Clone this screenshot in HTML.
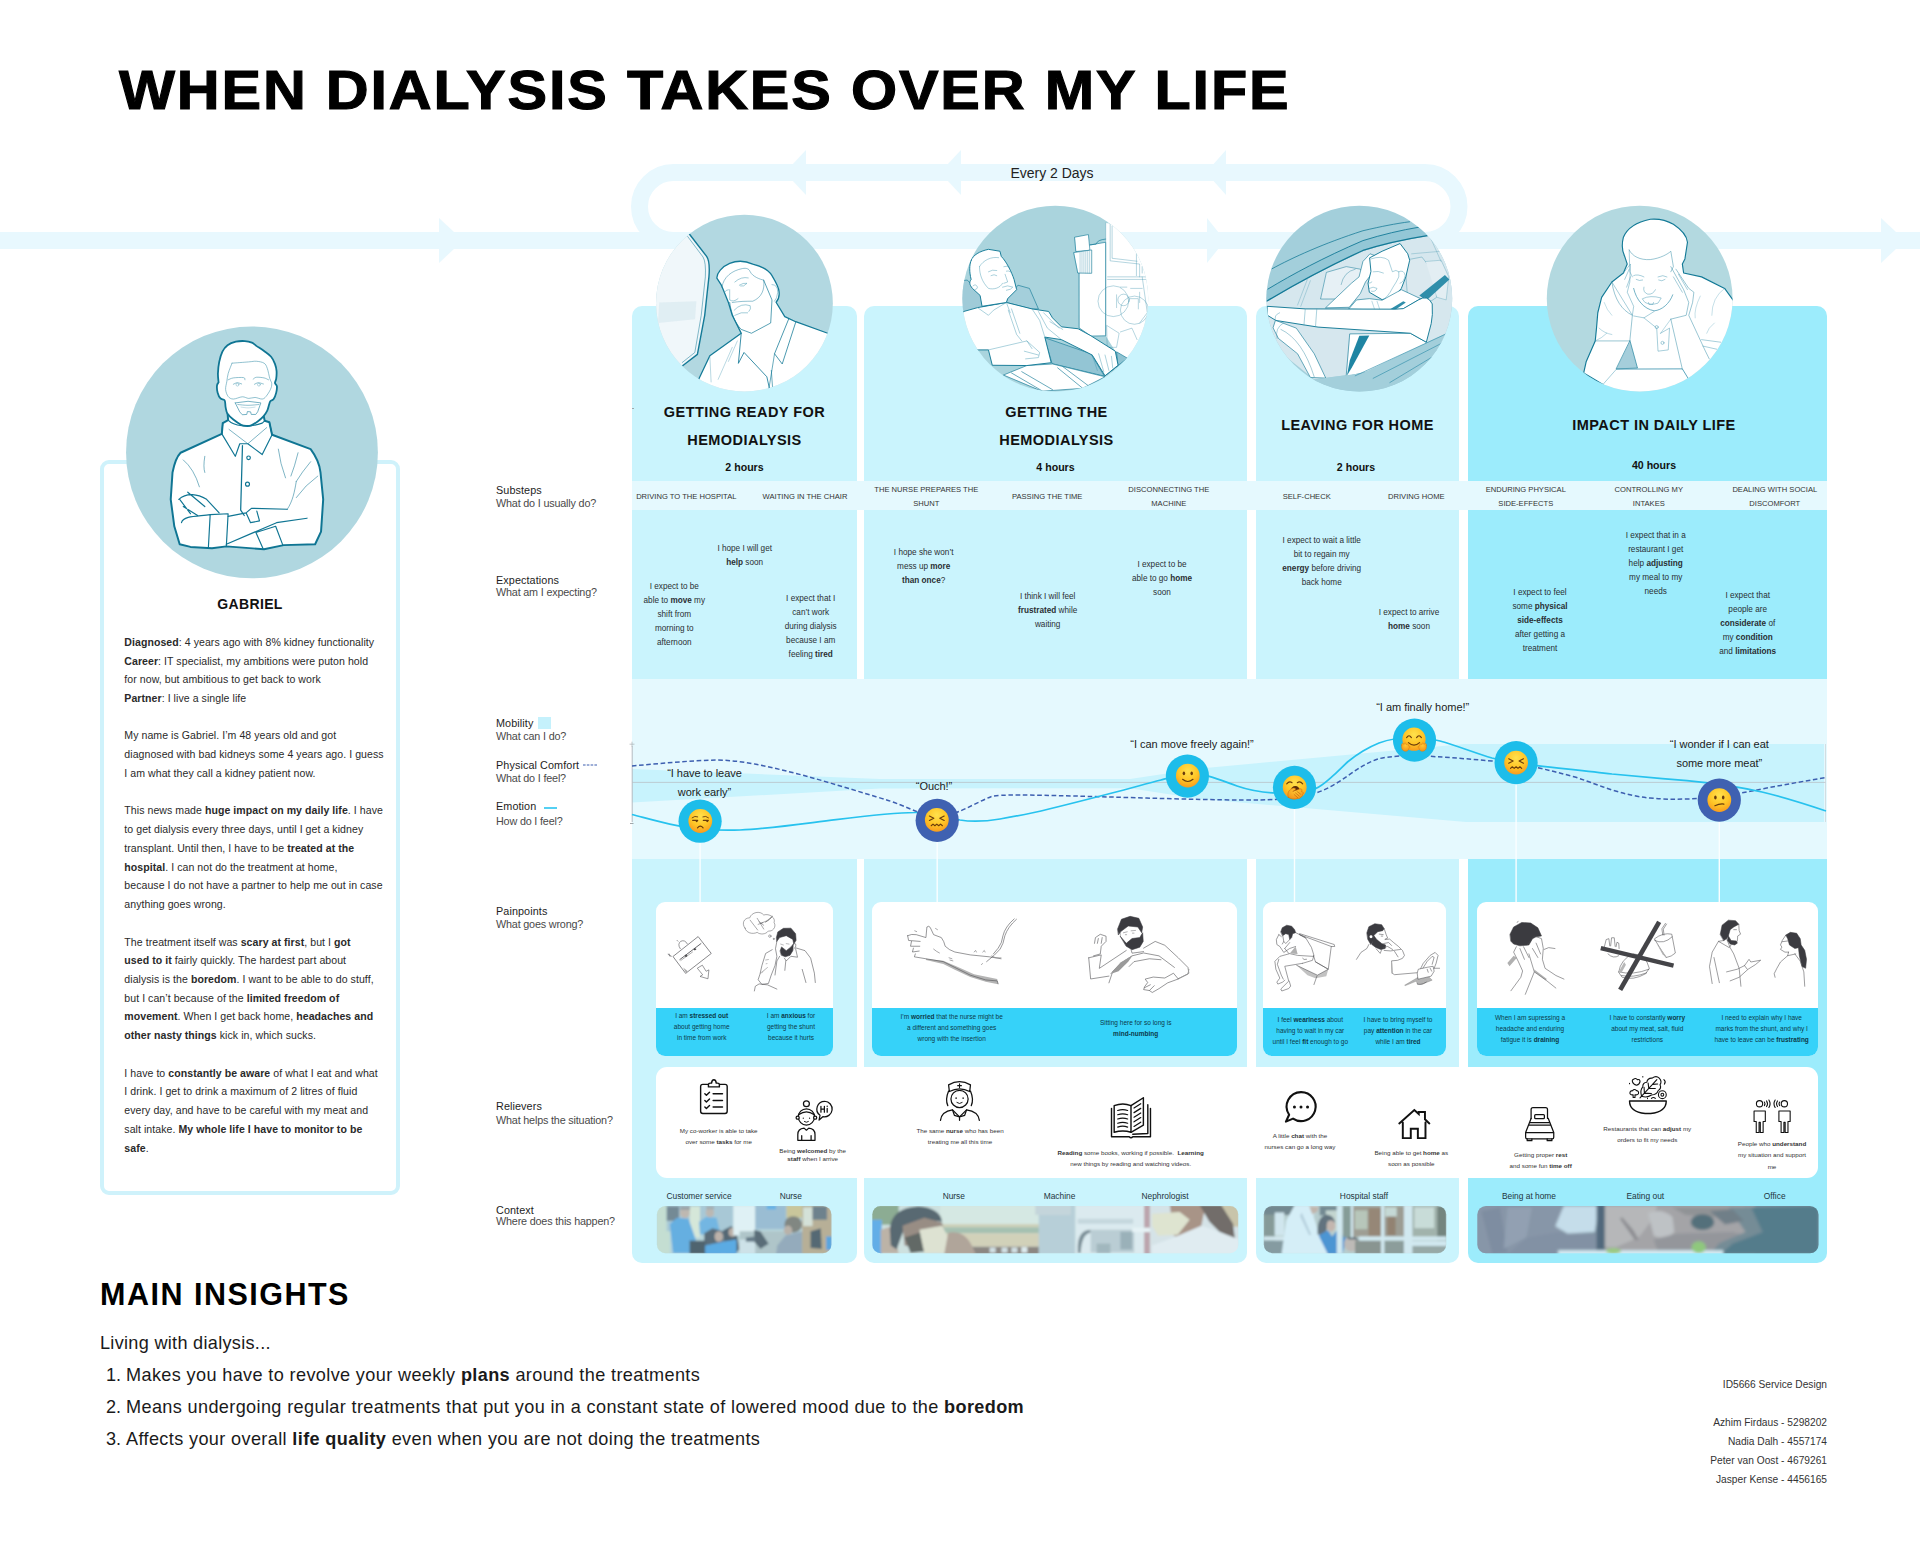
<!DOCTYPE html>
<html><head><meta charset="utf-8"><title>When dialysis takes over my life</title>
<style>
html,body{margin:0;padding:0;background:#fff}
body{width:1920px;height:1561px;position:relative;overflow:hidden;font-family:"Liberation Sans", sans-serif;}
#pg{position:absolute;left:0;top:0;width:1920px;height:1561px;overflow:hidden}
#pg div,#pg svg{position:absolute}
.t{white-space:nowrap}
.t b{font-weight:700}
</style></head><body><div id="pg">
<svg style="left:0;top:140px" width="1920" height="140" viewBox="0 140 1920 140">
<g fill="none" stroke="#e8f8fe" stroke-width="17">
<path d="M0 240.5 H1920"/>
<path d="M673.5 240.5 A34 34 0 0 1 673.5 172.5 H1425 A34 34 0 0 1 1425 240.5"/>
</g>
<g fill="#e8f8fe">
<path d="M439 218 L463 240.5 L439 263 Z"/>
<path d="M1207 218 L1225 240.5 L1207 263 Z"/>
<path d="M1881 218 L1905 240.5 L1881 263 Z"/>
<path d="M806 150 L785 172.5 L806 195 Z"/>
<path d="M961 150 L940 172.5 L961 195 Z"/>
<path d="M1226 150 L1206 172.5 L1226 195 Z"/>
</g></svg>
<div class="t" style="left:118.50px;top:54.20px;width:1400px;text-align:left;font-size:56px;line-height:72.8px;font-weight:700;color:#000;letter-spacing:1.7px;transform:scaleX(1.06);transform-origin:0 50%;-webkit-text-stroke:1.1px #000;">WHEN DIALYSIS TAKES OVER MY LIFE</div>
<div class="t" style="left:842.00px;top:164.05px;width:420px;text-align:center;font-size:14px;line-height:18.2px;font-weight:400;color:#222;letter-spacing:0px;">Every 2 Days</div>
<div style="left:632px;top:305.5px;width:225px;height:957.0px;background:#caf4fd;border-radius:10px;"></div>
<div style="left:864px;top:305.5px;width:383px;height:957.0px;background:#caf4fd;border-radius:10px;"></div>
<div style="left:1256px;top:305.5px;width:203px;height:957.0px;background:#caf4fd;border-radius:10px;"></div>
<div style="left:1468px;top:305.5px;width:359px;height:957.0px;background:#9cecfc;border-radius:10px;"></div>
<div style="left:632px;top:480.7px;width:1195px;height:29.3px;background:#e5f9fe;"></div>
<div style="left:632px;top:678.7px;width:1195px;height:180.5px;background:#e5f9fe;"></div>
<svg style="left:620px;top:678px" width="1220" height="230" viewBox="620 678 1220 230">
<defs>
<radialGradient id="eg" cx="0.5" cy="0.3" r="0.75"><stop offset="0" stop-color="#ffe14d"/><stop offset="0.55" stop-color="#ffc526"/><stop offset="1" stop-color="#f7941d"/></radialGradient>
<radialGradient id="hg" cx="0.5" cy="0.3" r="0.8"><stop offset="0" stop-color="#ffc733"/><stop offset="1" stop-color="#f08c16"/></radialGradient>
</defs>
<!-- mobility band -->
<path d="M632 769 L880 779 L1130 779 L1200 768.5 L1464 744 L1824 744 L1824 822 L1466 822 L1200 799 L1130 788.2 L880 788.5 L632 802.6 Z" fill="#c8f3fd"/>
<!-- axis -->
<path d="M632.2 746 V822" stroke="#b5bcc0" stroke-width="1"/>
<path d="M632 782.4 H1826" stroke="#b9c2c6" stroke-width="0.8"/>
<path d="M1825.5 744 V822" stroke="#cdd6da" stroke-width="0.8"/>
<path d="M629.5 744.2 H634.5 M632 741.7 V746.7" stroke="#aab2b6" stroke-width="0.7"/>
<path d="M630 823.5 H633.5" stroke="#8a9296" stroke-width="0.8"/>
<!-- white drop lines -->
<g stroke="#fafeff" stroke-width="1.4">
<path d="M700.1 840 V902"/><path d="M937.2 840 V902"/><path d="M1294.5 806 V902"/><path d="M1516.1 782 V902"/><path d="M1719.3 820 V902"/>
</g>
<!-- physical comfort dashed -->
<path d="M632 766 C660 763.5 690 760.5 717 760 C745 760.5 770 767 797 773.7 C825 781 850 789 876 796.7 C895 802 908 808 920 813 C932 818 944 817.5 959 811.5 C968 808 980 801 991 796.7 C1000 794 1030 795 1074 796 C1110 797 1160 798.5 1200 799.4 C1230 800 1258 800.5 1275 799.4 C1292 798.5 1304 797 1316 793 C1328 789 1338 782.5 1347.5 776 C1358 768.5 1368 762 1379 758.7 C1390 756 1405 755.5 1425 756 C1450 757.5 1470 759 1492 761 C1510 763 1522 764.5 1537 767.5 C1550 770.5 1562 773.5 1575 777 C1590 782 1600 786 1612 790 C1625 794 1638 797 1650 798 C1665 799.5 1675 799.3 1687 799 C1700 798.5 1712 797.5 1725 795.6 C1740 793 1750 791.5 1762 789 C1785 784.5 1805 781 1826 777.5" fill="none" stroke="#3d5fb0" stroke-width="1.5" stroke-dasharray="4.6 2.6"/>
<!-- emotion -->
<path d="M632 814.5 C655 820.5 680 828 700 829 C712 830 725 830.5 740 830 C770 828.5 800 824 836 819.6 C865 816 895 812.5 915 812.5 C930 812 945 817 960 820 C972 822 985 821.5 1000 819 C1012 817 1022 815 1034 812.5 C1060 806.5 1085 800 1113 792.7 C1130 788.5 1145 784 1161 780 C1172 777 1182 774 1192 773.7 C1205 773.5 1220 780 1237 786 C1250 790.5 1262 792.5 1275 793 C1288 793.5 1302 793 1316 788.4 C1322 786 1327 781 1332 776.7 C1338 771.5 1342 767 1347.5 762 C1353 757.5 1358 754 1363 751 C1369 747.5 1374 745 1379 743 C1388 739.5 1400 737.5 1414 737.5 C1424 737.5 1432 739 1440 741 C1458 746 1475 753 1492 758 C1508 762 1522 764 1537 765.6 C1562 768.5 1588 771 1612 774 C1638 776.5 1662 778.5 1687 780.6 C1712 783 1738 786.5 1762 792 C1785 797.5 1805 804 1826 811" fill="none" stroke="#27c2ee" stroke-width="1.7"/>
<!-- emoji circles -->
<g>
<circle cx="700.1" cy="821.2" r="21.6" fill="#1dbdea"/>
<circle cx="937.2" cy="820.4" r="21.6" fill="#3f61b1"/>
<circle cx="1187.4" cy="776.1" r="21.6" fill="#1dbdea"/>
<circle cx="1294.5" cy="787.4" r="21.6" fill="#1dbdea"/>
<circle cx="1414.5" cy="740.1" r="21.6" fill="#1dbdea"/>
<circle cx="1516.1" cy="762.6" r="21.6" fill="#1dbdea"/>
<circle cx="1719.3" cy="800.1" r="21.6" fill="#3f61b1"/>
</g>

<!-- emojis -->
<g transform="translate(700.3 821)" fill="none" stroke="#6a3c0c" stroke-linecap="round" stroke-width="1.1">
<circle r="11.9" fill="url(#eg)" stroke="none"/>
<path d="M-8.2 -3.2 Q-5.5 -5.6 -2.6 -4.2" stroke-width="0.9"/><path d="M2.6 -4.2 Q5.5 -5.6 8.2 -3.2" stroke-width="0.9"/>
<path d="M-7.6 -0.6 H-2.6" /><path d="M3 -0.6 H8" />
<circle cx="-3.6" cy="0.1" r="1.1" fill="#6a3c0c" stroke="none"/><circle cx="7" cy="0.1" r="1.1" fill="#6a3c0c" stroke="none"/>
<path d="M-2.8 6.8 Q0 3.6 2.8 6.8" stroke-width="1.2"/>
</g>
<g id="conf" transform="translate(936.8 819.9)" fill="none" stroke="#6a3c0c" stroke-linecap="round" stroke-linejoin="round" stroke-width="1.15">
<circle r="11.9" fill="url(#eg)" stroke="none"/>
<path d="M-7.4 -3.8 L-3 -1.6 L-7.4 0.6"/><path d="M7.4 -3.8 L3 -1.6 L7.4 0.6"/>
<path d="M-5.6 5.8 L-3.8 4.2 L-1.9 5.8 L0 4.2 L1.9 5.8 L3.8 4.2 L5.6 5.8"/>
</g>
<g transform="translate(1516.1 762.6)" fill="none" stroke="#6a3c0c" stroke-linecap="round" stroke-linejoin="round" stroke-width="1.15">
<circle r="11.9" fill="url(#eg)" stroke="none"/>
<path d="M-7.4 -3.8 L-3 -1.6 L-7.4 0.6"/><path d="M7.4 -3.8 L3 -1.6 L7.4 0.6"/>
<path d="M-5.6 5.8 L-3.8 4.2 L-1.9 5.8 L0 4.2 L1.9 5.8 L3.8 4.2 L5.6 5.8"/>
</g>
<g transform="translate(1187.8 775.7)" fill="none" stroke="#6a3c0c" stroke-linecap="round" stroke-width="1.2">
<circle r="11.9" fill="url(#eg)" stroke="none"/>
<ellipse cx="-3.9" cy="-2.4" rx="1.25" ry="1.9" fill="#6a3c0c" stroke="none"/><ellipse cx="3.9" cy="-2.4" rx="1.25" ry="1.9" fill="#6a3c0c" stroke="none"/>
<path d="M-5.2 3.6 Q0 8 5.2 3.6"/>
</g>
<g transform="translate(1294.7 787.3)" fill="none" stroke="#6a3c0c" stroke-linecap="round" stroke-width="1.1">
<circle r="11.9" fill="url(#eg)" stroke="none"/>
<path d="M-8 -3.4 Q-5.4 -6.6 -2.6 -4.6"/><path d="M2.6 -4.6 Q5.4 -6.6 8 -3.4"/>
<ellipse cx="0.6" cy="3.2" rx="4.6" ry="4.4" fill="#5a2d08" stroke="none"/>
<path d="M-6.5 10 C-8 5 -5 1.5 -1.5 0.8 C0.5 0.5 1.5 1.6 0.4 2.6 L-2 4.2 L5 1.6 C7.5 1 8 3.2 6.4 4.2 L8 4.6 C9.2 5.4 8.6 7 7.4 7.2 C8.2 8.2 7.4 9.6 6.2 9.6 C6 10.8 4.6 11.4 3.4 11 C0 12.4 -4 12 -6.5 10 Z" fill="url(#hg)" stroke="#c96a0c" stroke-width="0.5"/>
<path d="M2.2 4 L5.8 6.8 M0.8 5.6 L4.6 8.8 M-0.6 7.2 L3 10.4" stroke="#b85f0a" stroke-width="0.6"/>
</g>
<g transform="translate(1414 740)" fill="none" stroke="#6a3c0c" stroke-linecap="round" stroke-width="1.15">
<circle r="11.6" cy="-0.8" fill="url(#eg)" stroke="none"/>
<path d="M-7.4 -2.4 Q-5 -6.2 -2.6 -2.4"/><path d="M2.6 -2.4 Q5 -6.2 7.4 -2.4"/>
<path d="M-5.6 2.6 Q0 7.8 5.6 2.6"/>
<path d="M-12.4 5.2 C-12.6 3 -10.6 2.8 -10.2 4.4 C-9.8 2.4 -7.6 2.6 -7.8 4.6 C-6.8 3.2 -5 4.2 -5.6 5.8 C-4 5.6 -3.6 7.4 -5 8.4 C-5.4 10.6 -7.6 11.8 -9.8 11 C-12 10.2 -12.8 8 -12.4 5.2 Z" fill="url(#hg)" stroke="#d9780e" stroke-width="0.45"/>
<path d="M12.4 5.2 C12.6 3 10.6 2.8 10.2 4.4 C9.8 2.4 7.6 2.6 7.8 4.6 C6.8 3.2 5 4.2 5.6 5.8 C4 5.6 3.6 7.4 5 8.4 C5.4 10.6 7.6 11.8 9.8 11 C12 10.2 12.8 8 12.4 5.2 Z" fill="url(#hg)" stroke="#d9780e" stroke-width="0.45"/>
</g>
<g transform="translate(1719.3 800.1)" fill="none" stroke="#6a3c0c" stroke-linecap="round" stroke-width="1.2">
<circle r="11.9" fill="url(#eg)" stroke="none"/>
<ellipse cx="-3.9" cy="-2.6" rx="1.25" ry="1.9" fill="#6a3c0c" stroke="none"/><ellipse cx="3.9" cy="-2.6" rx="1.25" ry="1.9" fill="#6a3c0c" stroke="none"/>
<path d="M-4.4 5.6 Q0.5 3.4 4.6 4"/>
</g>
</svg>

<div class="t" style="left:554.50px;top:763.59px;width:300px;text-align:center;font-size:11px;line-height:19px;font-weight:400;color:#1c1c1c;letter-spacing:-0.03px;">“I have to leave<br>work early”</div>
<div class="t" style="left:784.00px;top:777.39px;width:300px;text-align:center;font-size:11px;line-height:19px;font-weight:400;color:#1c1c1c;letter-spacing:-0.03px;">“Ouch!”</div>
<div class="t" style="left:1042.00px;top:734.69px;width:300px;text-align:center;font-size:11px;line-height:19px;font-weight:400;color:#1c1c1c;letter-spacing:-0.03px;">“I can move freely again!”</div>
<div class="t" style="left:1272.70px;top:697.89px;width:300px;text-align:center;font-size:11px;line-height:19px;font-weight:400;color:#1c1c1c;letter-spacing:-0.03px;">“I am finally home!”</div>
<div class="t" style="left:1569.30px;top:735.39px;width:300px;text-align:center;font-size:11px;line-height:19px;font-weight:400;color:#1c1c1c;letter-spacing:-0.03px;">“I wonder if I can eat<br>some more meat”</div>
<div style="left:632px;top:408px;width:2.2px;height:1px;background:#9aa7ac;"></div>
<div class="t" style="left:534.50px;top:398.63px;width:420px;text-align:center;font-size:14.5px;line-height:27.9px;font-weight:700;color:#111;letter-spacing:0.45px;">GETTING READY FOR<br>HEMODIALYSIS</div>
<div class="t" style="left:534.50px;top:461.04px;width:420px;text-align:center;font-size:10.6px;line-height:13.78px;font-weight:700;color:#111;letter-spacing:0px;">2 hours</div>
<div class="t" style="left:846.50px;top:398.63px;width:420px;text-align:center;font-size:14.5px;line-height:27.9px;font-weight:700;color:#111;letter-spacing:0.45px;">GETTING THE<br>HEMODIALYSIS</div>
<div class="t" style="left:845.50px;top:461.04px;width:420px;text-align:center;font-size:10.6px;line-height:13.78px;font-weight:700;color:#111;letter-spacing:0px;">4 hours</div>
<div class="t" style="left:1147.50px;top:415.55px;width:420px;text-align:center;font-size:14.5px;line-height:18.85px;font-weight:700;color:#111;letter-spacing:0.45px;">LEAVING FOR HOME</div>
<div class="t" style="left:1146.00px;top:461.04px;width:420px;text-align:center;font-size:10.6px;line-height:13.78px;font-weight:700;color:#111;letter-spacing:0px;">2 hours</div>
<div class="t" style="left:1444.00px;top:415.55px;width:420px;text-align:center;font-size:14.5px;line-height:18.85px;font-weight:700;color:#111;letter-spacing:0.45px;">IMPACT IN DAILY LIFE</div>
<div class="t" style="left:1444.00px;top:458.74px;width:420px;text-align:center;font-size:10.6px;line-height:13.78px;font-weight:700;color:#111;letter-spacing:0px;">40 hours</div>
<div class="t" style="left:586.30px;top:491.63px;width:200px;text-align:center;font-size:7.6px;line-height:9.88px;font-weight:400;color:#333;letter-spacing:0px;">DRIVING TO THE HOSPITAL</div>
<div class="t" style="left:705.00px;top:491.63px;width:200px;text-align:center;font-size:7.6px;line-height:9.88px;font-weight:400;color:#333;letter-spacing:0px;">WAITING IN THE CHAIR</div>
<div class="t" style="left:826.30px;top:482.67px;width:200px;text-align:center;font-size:7.6px;line-height:14px;font-weight:400;color:#333;letter-spacing:0px;">THE NURSE PREPARES THE<br>SHUNT</div>
<div class="t" style="left:947.20px;top:491.63px;width:200px;text-align:center;font-size:7.6px;line-height:9.88px;font-weight:400;color:#333;letter-spacing:0px;">PASSING THE TIME</div>
<div class="t" style="left:1068.80px;top:482.67px;width:200px;text-align:center;font-size:7.6px;line-height:14px;font-weight:400;color:#333;letter-spacing:0px;">DISCONNECTING THE<br>MACHINE</div>
<div class="t" style="left:1206.70px;top:491.63px;width:200px;text-align:center;font-size:7.6px;line-height:9.88px;font-weight:400;color:#333;letter-spacing:0px;">SELF-CHECK</div>
<div class="t" style="left:1316.30px;top:491.63px;width:200px;text-align:center;font-size:7.6px;line-height:9.88px;font-weight:400;color:#333;letter-spacing:0px;">DRIVING HOME</div>
<div class="t" style="left:1425.80px;top:482.67px;width:200px;text-align:center;font-size:7.6px;line-height:14px;font-weight:400;color:#333;letter-spacing:0px;">ENDURING PHYSICAL<br>SIDE-EFFECTS</div>
<div class="t" style="left:1548.80px;top:482.67px;width:200px;text-align:center;font-size:7.6px;line-height:14px;font-weight:400;color:#333;letter-spacing:0px;">CONTROLLING MY<br>INTAKES</div>
<div class="t" style="left:1674.80px;top:482.67px;width:200px;text-align:center;font-size:7.6px;line-height:14px;font-weight:400;color:#333;letter-spacing:0px;">DEALING WITH SOCIAL<br>DISCOMFORT</div>
<div class="t" style="left:644.70px;top:542.06px;width:200px;text-align:center;font-size:8.2px;line-height:14px;font-weight:400;color:#2a2f33;letter-spacing:0px;">I hope I will get<br><b>help</b> soon</div>
<div class="t" style="left:574.30px;top:579.76px;width:200px;text-align:center;font-size:8.2px;line-height:14px;font-weight:400;color:#2a2f33;letter-spacing:0px;">I expect to be<br>able to <b>move</b> my<br>shift from<br>morning to<br>afternoon</div>
<div class="t" style="left:710.70px;top:592.06px;width:200px;text-align:center;font-size:8.2px;line-height:14px;font-weight:400;color:#2a2f33;letter-spacing:0px;">I expect that I<br>can’t work<br>during dialysis<br>because I am<br>feeling <b>tired</b></div>
<div class="t" style="left:823.70px;top:546.06px;width:200px;text-align:center;font-size:8.2px;line-height:14px;font-weight:400;color:#2a2f33;letter-spacing:0px;">I hope she won’t<br>mess up <b>more</b><br><b>than once</b>?</div>
<div class="t" style="left:947.70px;top:590.36px;width:200px;text-align:center;font-size:8.2px;line-height:14px;font-weight:400;color:#2a2f33;letter-spacing:0px;">I think I will feel<br><b>frustrated</b> while<br>waiting</div>
<div class="t" style="left:1062.00px;top:558.36px;width:200px;text-align:center;font-size:8.2px;line-height:14px;font-weight:400;color:#2a2f33;letter-spacing:0px;">I expect to be<br>able to go <b>home</b><br>soon</div>
<div class="t" style="left:1221.70px;top:533.76px;width:200px;text-align:center;font-size:8.2px;line-height:14px;font-weight:400;color:#2a2f33;letter-spacing:0px;">I expect to wait a little<br>bit to regain my<br><b>energy</b> before driving<br>back home</div>
<div class="t" style="left:1309.00px;top:606.06px;width:200px;text-align:center;font-size:8.2px;line-height:14px;font-weight:400;color:#2a2f33;letter-spacing:0px;">I expect to arrive<br><b>home</b> soon</div>
<div class="t" style="left:1440.00px;top:586.36px;width:200px;text-align:center;font-size:8.2px;line-height:14px;font-weight:400;color:#2a2f33;letter-spacing:0px;">I expect to feel<br>some <b>physical</b><br><b>side-effects</b><br>after getting a<br>treatment</div>
<div class="t" style="left:1555.70px;top:529.36px;width:200px;text-align:center;font-size:8.2px;line-height:14px;font-weight:400;color:#2a2f33;letter-spacing:0px;">I expect that in a<br>restaurant I get<br>help <b>adjusting</b><br>my meal to my<br>needs</div>
<div class="t" style="left:1647.70px;top:589.36px;width:200px;text-align:center;font-size:8.2px;line-height:14px;font-weight:400;color:#2a2f33;letter-spacing:0px;">I expect that<br>people are<br><b>considerate</b> of<br>my <b>condition</b><br>and <b>limitations</b></div>
<div class="t" style="left:496.00px;top:482.54px;width:200px;text-align:left;font-size:10.8px;line-height:14.04px;font-weight:400;color:#1d1d1d;letter-spacing:0.1px;">Substeps</div>
<div class="t" style="left:496.00px;top:495.94px;width:200px;text-align:left;font-size:10.8px;line-height:14.04px;font-weight:400;color:#4a4a4a;letter-spacing:-0.18px;">What do I usually do?</div>
<div class="t" style="left:496.00px;top:572.54px;width:200px;text-align:left;font-size:10.8px;line-height:14.04px;font-weight:400;color:#1d1d1d;letter-spacing:0.1px;">Expectations</div>
<div class="t" style="left:496.00px;top:585.24px;width:200px;text-align:left;font-size:10.8px;line-height:14.04px;font-weight:400;color:#4a4a4a;letter-spacing:-0.18px;">What am I expecting?</div>
<div class="t" style="left:496.00px;top:715.94px;width:200px;text-align:left;font-size:10.8px;line-height:14.04px;font-weight:400;color:#1d1d1d;letter-spacing:0.1px;">Mobility</div>
<div class="t" style="left:496.00px;top:729.24px;width:200px;text-align:left;font-size:10.8px;line-height:14.04px;font-weight:400;color:#4a4a4a;letter-spacing:-0.18px;">What can I do?</div>
<div class="t" style="left:496.00px;top:757.54px;width:200px;text-align:left;font-size:10.8px;line-height:14.04px;font-weight:400;color:#1d1d1d;letter-spacing:0.1px;">Physical Comfort</div>
<div class="t" style="left:496.00px;top:770.94px;width:200px;text-align:left;font-size:10.8px;line-height:14.04px;font-weight:400;color:#4a4a4a;letter-spacing:-0.18px;">What do I feel?</div>
<div class="t" style="left:496.00px;top:799.24px;width:200px;text-align:left;font-size:10.8px;line-height:14.04px;font-weight:400;color:#1d1d1d;letter-spacing:0.1px;">Emotion</div>
<div class="t" style="left:496.00px;top:814.24px;width:200px;text-align:left;font-size:10.8px;line-height:14.04px;font-weight:400;color:#4a4a4a;letter-spacing:-0.18px;">How do I feel?</div>
<div class="t" style="left:496.00px;top:904.24px;width:200px;text-align:left;font-size:10.8px;line-height:14.04px;font-weight:400;color:#1d1d1d;letter-spacing:0.1px;">Painpoints</div>
<div class="t" style="left:496.00px;top:916.94px;width:200px;text-align:left;font-size:10.8px;line-height:14.04px;font-weight:400;color:#4a4a4a;letter-spacing:-0.18px;">What goes wrong?</div>
<div class="t" style="left:496.00px;top:1099.24px;width:200px;text-align:left;font-size:10.8px;line-height:14.04px;font-weight:400;color:#1d1d1d;letter-spacing:0.1px;">Relievers</div>
<div class="t" style="left:496.00px;top:1112.54px;width:200px;text-align:left;font-size:10.8px;line-height:14.04px;font-weight:400;color:#4a4a4a;letter-spacing:-0.18px;">What helps the situation?</div>
<div class="t" style="left:496.00px;top:1202.54px;width:200px;text-align:left;font-size:10.8px;line-height:14.04px;font-weight:400;color:#1d1d1d;letter-spacing:0.1px;">Context</div>
<div class="t" style="left:496.00px;top:1214.24px;width:200px;text-align:left;font-size:10.8px;line-height:14.04px;font-weight:400;color:#4a4a4a;letter-spacing:-0.18px;">Where does this happen?</div>
<div style="left:537.7px;top:717.3px;width:13.3px;height:12px;background:#c5f1fc;"></div>
<svg style="left:580px;top:760px" width="30" height="10"><path d="M3 5 H18" stroke="#3d5fb0" stroke-width="1.2" stroke-dasharray="2.6 1.2" fill="none"/></svg>
<svg style="left:540px;top:803px" width="30" height="10"><path d="M4 5 H17" stroke="#29c5f0" stroke-width="1.6" fill="none"/></svg>
<div style="left:655.7px;top:901.7px;width:177.0px;height:154px;background:#fff;border-radius:9px;overflow:hidden"><div style="left:0;top:106.1px;width:100%;height:50px;background:#36d2f9"></div></div>
<div style="left:872.3px;top:901.7px;width:365.0px;height:154px;background:#fff;border-radius:9px;overflow:hidden"><div style="left:0;top:106.1px;width:100%;height:50px;background:#36d2f9"></div></div>
<div style="left:1263.3px;top:901.7px;width:182.70000000000005px;height:154px;background:#fff;border-radius:9px;overflow:hidden"><div style="left:0;top:106.1px;width:100%;height:50px;background:#36d2f9"></div></div>
<div style="left:1477.3px;top:901.7px;width:340.4000000000001px;height:154px;background:#fff;border-radius:9px;overflow:hidden"><div style="left:0;top:106.1px;width:100%;height:50px;background:#36d2f9"></div></div>
<div class="t" style="left:601.70px;top:1009.95px;width:200px;text-align:center;font-size:6.5px;line-height:11px;font-weight:400;color:#0c3a4a;letter-spacing:0px;">I am <b>stressed out</b><br>about getting home<br>in time from work</div>
<div class="t" style="left:691.00px;top:1009.95px;width:200px;text-align:center;font-size:6.5px;line-height:11px;font-weight:400;color:#0c3a4a;letter-spacing:0px;">I am <b>anxious</b> for<br>getting the shunt<br>because it hurts</div>
<div class="t" style="left:851.70px;top:1010.95px;width:200px;text-align:center;font-size:6.5px;line-height:11px;font-weight:400;color:#0c3a4a;letter-spacing:0px;">I’m <b>worried</b> that the nurse might be<br>a different and something goes<br>wrong with the insertion</div>
<div class="t" style="left:1035.70px;top:1016.55px;width:200px;text-align:center;font-size:6.5px;line-height:11px;font-weight:400;color:#0c3a4a;letter-spacing:0px;">Sitting here for so long is<br><b>mind-numbing</b></div>
<div class="t" style="left:1210.30px;top:1013.95px;width:200px;text-align:center;font-size:6.5px;line-height:11px;font-weight:400;color:#0c3a4a;letter-spacing:0px;">I feel <b>weariness</b> about<br>having to wait in my car<br>until I feel <b>fit</b> enough to go</div>
<div class="t" style="left:1298.00px;top:1013.95px;width:200px;text-align:center;font-size:6.5px;line-height:11px;font-weight:400;color:#0c3a4a;letter-spacing:0px;">I have to bring myself to<br>pay <b>attention</b> in the car<br>while I am <b>tired</b></div>
<div class="t" style="left:1430.00px;top:1011.95px;width:200px;text-align:center;font-size:6.5px;line-height:11px;font-weight:400;color:#0c3a4a;letter-spacing:0px;">When I am supressing a<br>headache and enduring<br>fatigue it is <b>draining</b></div>
<div class="t" style="left:1547.30px;top:1011.95px;width:200px;text-align:center;font-size:6.5px;line-height:11px;font-weight:400;color:#0c3a4a;letter-spacing:0px;">I have to constantly <b>worry</b><br>about my meat, salt, fluid<br>restrictions</div>
<div class="t" style="left:1661.70px;top:1011.95px;width:200px;text-align:center;font-size:6.5px;line-height:11px;font-weight:400;color:#0c3a4a;letter-spacing:0px;">I need to explain why I have<br>marks from the shunt, and why I<br>have to leave can be <b>frustrating</b></div>
<!-- box1 sketches -->
<svg style="left:655px;top:900px" width="180" height="110" viewBox="0 0 1920 1173">
<g fill="none" stroke="#4b4b4f" stroke-width="6" stroke-linejoin="round" stroke-linecap="round">
<path d="M195 600 L460 390 L600 570 L330 780 Z" stroke-width="7"/>
<path d="M270 520 Q235 470 275 440 Q320 420 345 468"/>
<path d="M265 635 L490 465" stroke-width="9"/><path d="M275 645 L400 555" stroke="#aaa" stroke-width="10"/>
<circle cx="330" cy="595" r="9" fill="#333"/><circle cx="425" cy="525" r="9" fill="#333"/>
<path d="M300 720 L330 775 L350 760 Z" fill="#aaa" stroke="none"/>
<path d="M140 580 L175 600 M150 575 L160 600 M235 430 L245 440"/>
<path d="M455 725 L505 695 L545 760 L575 745 L565 840 L480 815 L505 800 Z"/>
<!-- cloud -->
<path d="M960 300 C920 250 950 190 1010 190 C1030 130 1120 110 1160 160 C1220 140 1290 190 1270 240 C1300 290 1250 340 1210 330 C1180 370 1120 370 1090 345 C1040 370 970 350 960 300 Z" stroke-width="5"/>
<path d="M1015 215 L1095 320 M1090 195 L1160 310 M1130 250 Q1200 230 1250 175 M1110 230 L1160 270 M1100 260 L1150 240" stroke-width="5"/>
<path d="M1180 235 Q1220 215 1250 178" stroke="#777" stroke-width="10"/>
<circle cx="1225" cy="385" r="13" stroke-width="5"/><circle cx="1266" cy="415" r="6" stroke-width="5"/>
<!-- man -->
<path d="M1295 400 L1310 340 L1370 302 L1450 300 L1500 360 L1505 430 L1480 470 L1470 420 L1400 380 L1330 400 L1300 440 Z" fill="#3b3b40" stroke="#3b3b40"/>
<path d="M1335 540 L1350 500 L1400 540 L1450 500 L1475 470 L1470 540 L1440 590 L1390 605 L1350 590 Z" fill="#3b3b40" stroke="#3b3b40"/>
<path d="M1480 470 Q1510 450 1500 500 L1480 520"/>
<path d="M1340 470 L1370 480 M1400 465 L1430 470" stroke-width="4"/>
<path d="M1300 440 L1285 520 L1300 600 L1280 700 L1240 800 L1210 890 L1140 900 L1100 850 L1120 790 L1140 700 L1180 570 L1250 530"/>
<path d="M1330 600 L1300 650 L1280 800"/>
<path d="M1500 510 L1600 540 L1660 620 L1700 780 L1710 880 M1570 740 L1610 880"/>
<path d="M1380 620 L1400 650 L1450 600 L1520 610 L1500 520 M1395 650 L1385 750"/>
<path d="M1125 780 L1200 720 M1180 640 L1210 635 M1185 680 L1195 678" stroke-width="4"/>
<path d="M1125 790 L1195 725 L1150 770 Z" fill="#999" stroke="none"/>
<path d="M1060 970 L1070 920 L1110 895 L1200 905 L1300 950"/>
</g></svg>
<!-- box2 sketches -->
<svg style="left:870px;top:900px" width="370" height="110" viewBox="0 0 1920 571">
<g fill="none" stroke="#4b4b4f" stroke-width="3" stroke-linejoin="round" stroke-linecap="round">
<path d="M290 305 L380 315 L450 345 L540 385 L660 410 L665 437 L600 425 L520 400 L440 362 L380 332 L290 312 Z" fill="#b4b4b4" stroke="none"/>
<path d="M195 185 Q215 175 240 180 L290 195 L295 140 Q305 132 312 142 L330 180 L370 195 Q385 215 390 240 Q410 260 440 270 L520 285 L620 295 L680 305"/>
<path d="M195 185 L200 210 L260 215 M215 215 L210 240 L258 240 M225 250 L220 270 L255 265 M235 280 L230 295 L290 305 L380 320 L440 350 L520 390 L600 415 L660 420 L665 435"/>
<path d="M330 255 Q345 268 360 275 M410 300 L425 305 M415 312 L430 316" stroke-width="2.5"/>
<path d="M760 100 Q715 140 700 185 Q692 230 675 255 Q650 285 605 320 M748 98 Q700 140 690 185 Q685 225 665 250 L640 280"/>
<path d="M630 290 Q650 305 680 300" stroke-width="2"/>
<path d="M540 270 L548 262 L552 270 M585 270 L593 262 L597 270 M232 160 L242 164 M340 148 L350 154 M578 335 L584 330" stroke-width="2.5"/>
<!-- man lying -->
<path d="M1285 150 L1305 100 L1350 85 L1395 95 L1415 140 L1410 170 L1390 140 L1340 135 L1300 165 L1290 180 Z" fill="#3b3b40" stroke="#3b3b40"/>
<path d="M1300 190 L1330 225 L1360 200 L1400 195 L1415 170 L1418 215 L1400 245 L1360 258 L1330 240 Z" fill="#3b3b40" stroke="#3b3b40"/>
<path d="M1298 165 L1300 190 M1315 170 L1335 165 M1355 160 L1378 158 M1325 180 L1332 180 M1362 172 L1370 172" stroke-width="2.2"/>
<path d="M1165 225 L1170 195 L1195 178 L1225 188 L1225 215 L1200 240 L1195 280 L1160 290 M1185 200 L1180 225 M1205 195 L1200 225"/>
<path d="M1135 300 L1200 285 L1190 355 L1330 262 M1135 300 L1145 410 L1240 395"/>
<path d="M1355 258 L1360 276 L1420 268 M1420 250 L1480 215 L1530 235 L1600 300 L1650 350 L1655 380 L1600 410"/>
<path d="M1240 430 L1260 370 L1300 330 L1360 290 L1420 275 L1500 290 L1580 350 M1345 345 L1370 320 L1450 305 L1510 310"/>
<path d="M1245 385 L1300 325 L1365 285 L1340 320 L1290 370 Z" fill="#9a9a9a" stroke="none"/>
<path d="M1600 408 L1650 385 L1655 360" stroke="#9a9a9a" stroke-width="5"/>
<path d="M1430 410 L1470 400 L1530 405 L1575 380 L1600 410 L1545 430 L1500 460 L1465 480 L1450 470 L1420 465 L1425 450 L1440 430 Z M1450 470 L1475 445 M1425 455 L1455 440"/>
</g></svg>
<!-- box3 sketches -->
<svg style="left:1260px;top:900px" width="190" height="110" viewBox="0 0 1920 1112">
<g fill="none" stroke="#4b4b4f" stroke-width="5.5" stroke-linejoin="round" stroke-linecap="round">
<path d="M370 660 L580 760 L690 700 L670 770 L560 790 L480 760 Z" fill="#c2c2c2" stroke="none"/>
<path d="M400 340 L750 450 L755 470 L720 470 L690 700 L560 625 L540 560 M560 625 L690 700 L580 760 L370 660 M575 770 L545 855 M720 470 L400 350"/>
<path d="M210 320 L225 280 L270 255 L320 265 L350 300 L360 330 L330 340 L320 380 L300 400 L290 350 L260 340 L230 360 Z" fill="#3b3b40" stroke="#3b3b40"/>
<path d="M190 350 L165 400 L170 450 L200 470 L240 530 L300 490 L360 470 M190 350 L215 370 M230 360 L240 420 L260 440 L300 400 M240 420 L225 445 M250 490 L300 430"/>
<path d="M360 330 L460 380 L520 480 L545 560 L530 610 L430 640 M400 350 L460 385"/>
<path d="M250 490 L290 540 L380 560 L540 570 M430 590 Q440 610 470 600"/>
<path d="M300 540 L360 470 L380 545 Z" fill="#b0b0b0" stroke="none"/>
<path d="M290 545 L200 570 L150 620 L160 700 L200 790 L170 830 L180 850 L230 830 L250 810 M190 600 L175 650 L215 760 L235 800"/>
<path d="M430 640 L250 670 L290 820 L210 900 L220 920 L290 895 L310 870 L295 820"/>
<!-- yawning driver -->
<path d="M1080 330 L1100 270 L1160 240 L1230 250 L1255 290 L1240 310 L1190 320 L1150 360 L1140 420 L1120 450 L1090 400 Z" fill="#3b3b40" stroke="#3b3b40"/>
<path d="M1150 360 L1180 400 L1230 440 L1270 455 L1265 490 L1220 500 L1170 480 L1130 450 L1140 400 Z" fill="#3b3b40" stroke="#3b3b40"/>
<circle cx="1122" cy="372" r="15" fill="#fff" stroke="none"/>
<path d="M1255 290 L1275 350 L1290 385 L1265 395 M1205 345 L1245 350 M1225 365 L1240 365" />
<path d="M1265 400 L1310 395 L1350 430 L1400 470 L1440 510 L1460 560 L1440 590 L1390 610 L1330 615 L1335 740 L1360 755 L1590 735"/>
<path d="M1250 440 L1300 430 L1330 460 M1245 480 L1290 470 L1340 500 M1255 510 L1320 515 L1380 505 L1420 500 M1360 520 L1395 575"/>
<path d="M1175 495 L1215 540 L1230 500 M1100 450 L1080 490 L1020 530 L975 600"/>
<path d="M1330 640 L1335 740" stroke="#aaa" stroke-width="9"/>
<path d="M1465 860 L1600 780 L1700 770 L1740 810 L1640 850 L1590 850 L1580 820 L1470 865 Z" fill="#b5b5b5" stroke="#777" stroke-width="4"/>
<path d="M1610 720 L1650 640 L1720 560 L1770 530 L1800 560 L1780 640 L1760 690 M1640 700 L1690 620 L1740 570 L1760 580 L1740 650"/>
<path d="M1590 735 L1600 700 L1690 680 L1750 670 L1760 720 L1730 770 L1600 800 Z M1760 690 L1815 690 M1690 700 L1700 730 M1720 690 L1735 720" fill="#fff"/>
<path d="M1590 850 Q1620 870 1680 830" />
</g></svg>
<!-- box4 sketches -->
<svg style="left:1475px;top:900px" width="345" height="110" viewBox="0 0 1920 612">
<g fill="none" stroke="#4b4b4f" stroke-width="3" stroke-linejoin="round" stroke-linecap="round">
<path d="M180 350 L215 310 L232 322 L192 368 Z M328 385 L400 440 L394 446 L334 402 Z" fill="#b0b0b0" stroke="none"/>
<path d="M195 190 L215 150 L260 125 L310 128 L350 155 L370 200 L340 205 L320 215 L300 250 L250 255 L215 245 L200 230 Z" fill="#3b3b40" stroke="#3b3b40"/>
<path d="M235 125 L240 118" />
<path d="M230 260 L215 290 L240 340 L265 395 L255 430 L200 505 M290 250 L330 200 L370 215 L380 270 L375 330 L390 380 L450 420 L495 440"/>
<path d="M320 270 L350 320 M340 240 L365 300 M250 270 L275 330 M270 260 L300 320 M300 300 L330 400 L280 525 M330 400 L400 450 L450 490 M385 275 L410 265 L445 270"/>
<!-- food -->
<path d="M1000 215 Q1045 180 1095 190 L1115 295 Q1095 315 1065 320 Z M1000 225 Q1050 250 1097 205 M1045 195 L1040 160 L1060 130 M1052 195 L1048 162 L1066 134"/>
<path d="M1010 240 L1068 318 L1045 305 Z" fill="#b0b0b0" stroke="none"/>
<path d="M720 260 L730 220 L745 215 L750 255 M755 255 L760 210 L775 210 L780 258 M785 260 L790 235 L800 240 L802 270 M740 300 Q770 330 800 310" />
<path d="M800 400 Q810 330 880 300 Q950 300 970 380 L950 410 Q880 450 820 430 Z M800 400 Q880 420 968 385 M815 420 Q880 435 955 405"/>
<path d="M800 400 L830 345 L840 360 L815 405 Z" fill="#b8b8b8" stroke="none"/>
<path d="M1025 122 L808 500" stroke="#444448" stroke-width="26" stroke-linecap="butt"/>
<path d="M700 268 L1105 365" stroke="#444448" stroke-width="24" stroke-linecap="butt"/>
<!-- man & woman -->
<path d="M1365 190 L1375 140 L1410 112 L1450 115 L1468 135 L1440 150 L1420 165 L1410 200 L1400 215 L1385 225 Z" fill="#3b3b40" stroke="#3b3b40"/>
<path d="M1410 200 L1425 225 L1455 228 L1460 240 L1445 250 L1420 245 L1405 225 Z" fill="#3b3b40" stroke="#3b3b40"/>
<path d="M1468 135 L1470 170 L1478 190 L1462 200 L1460 228 M1440 165 L1455 165"/>
<path d="M1385 225 L1355 230 L1320 290 L1305 370 L1320 465 M1400 215 L1420 265 L1440 300 L1470 380 L1480 480 M1355 230 L1415 265 L1425 250"/>
<path d="M1400 400 L1460 385 L1500 365 L1525 330 L1535 345 L1590 335 L1560 360 L1520 385 L1470 430 L1420 450 M1330 320 L1360 460 M1500 365 L1515 385"/>
<path d="M1730 195 L1755 180 L1790 185 L1810 215 L1815 250 L1835 280 L1845 330 L1840 380 L1820 370 L1805 310 L1800 265 L1780 270 L1750 250 L1740 215 Z" fill="#3b3b40" stroke="#3b3b40"/>
<path d="M1730 195 L1710 225 L1700 250 L1708 262 L1700 275 L1725 290 L1745 290 M1710 232 L1740 228"/>
<path d="M1745 290 L1740 310 L1700 345 L1680 380 L1665 410 L1670 430 M1780 300 L1810 340 L1830 400 L1835 480 M1740 310 L1785 300"/>
</g></svg>

<div style="left:655.7px;top:1067.3px;width:1162px;height:110.4px;background:#fff;border-radius:11px;"></div>
<div class="t" style="left:588.70px;top:1124.63px;width:260px;text-align:center;font-size:6.25px;line-height:11px;font-weight:400;color:#333;letter-spacing:0px;">My co-worker is able to take<br>over some <b>tasks</b> for me</div>
<div class="t" style="left:682.70px;top:1146.83px;width:260px;text-align:center;font-size:6.25px;line-height:8.6px;font-weight:400;color:#333;letter-spacing:0px;">Being <b>welcomed</b> by the<br><b>staff</b> when I arrive</div>
<div class="t" style="left:830.00px;top:1124.63px;width:260px;text-align:center;font-size:6.25px;line-height:11px;font-weight:400;color:#333;letter-spacing:0px;">The same <b>nurse</b> who has been<br>treating me all this time</div>
<div class="t" style="left:1000.70px;top:1147.33px;width:260px;text-align:center;font-size:6.25px;line-height:11px;font-weight:400;color:#333;letter-spacing:0px;"><b>Reading</b> some books, working if possible. &nbsp;<b>Learning</b><br>new things by reading and watching videos.</div>
<div class="t" style="left:1170.00px;top:1129.78px;width:260px;text-align:center;font-size:6.25px;line-height:11.5px;font-weight:400;color:#333;letter-spacing:0px;">A little <b>chat</b> with the<br>nurses can go a long way</div>
<div class="t" style="left:1281.30px;top:1147.03px;width:260px;text-align:center;font-size:6.25px;line-height:11px;font-weight:400;color:#333;letter-spacing:0px;">Being able to get <b>home</b> as<br>soon as possible</div>
<div class="t" style="left:1410.70px;top:1149.18px;width:260px;text-align:center;font-size:6.25px;line-height:11.3px;font-weight:400;color:#333;letter-spacing:0px;">Getting proper <b>rest</b><br>and some fun <b>time off</b></div>
<div class="t" style="left:1517.30px;top:1123.03px;width:260px;text-align:center;font-size:6.25px;line-height:11px;font-weight:400;color:#333;letter-spacing:0px;">Restaurants that can <b>adjust</b> my<br>orders to fit my needs</div>
<div class="t" style="left:1642.00px;top:1138.26px;width:260px;text-align:center;font-size:6.25px;line-height:11.15px;font-weight:400;color:#333;letter-spacing:0px;">People who <b>understand</b><br>my situation and support<br>me</div>
<svg style="left:690px;top:1070px" width="300" height="80" viewBox="0 0 1920 512">
<g fill="none" stroke="#111" stroke-width="9" stroke-linejoin="round" stroke-linecap="round">
<rect x="68" y="92" width="170" height="186" rx="14"/>
<path d="M118 108 V94 Q118 84 130 84 H138 Q140 62 153 62 Q166 62 168 84 H176 Q188 84 188 94 V108 Z" fill="#fff"/>
<path d="M95 152 L105 162 L125 142 M95 195 L105 205 L125 185 M95 237 L105 247 L125 227 M148 152 H208 M148 195 H208 M148 237 H208"/>
<!-- girl -->
<g stroke-width="8">
<circle cx="745" cy="216" r="19"/><circle cx="745" cy="300" r="52" fill="#fff"/>
<circle cx="689" cy="305" r="10" fill="#fff"/><circle cx="801" cy="305" r="10" fill="#fff"/>
<path d="M697 285 Q745 250 793 285"/>
<circle cx="725" cy="308" r="4" fill="#111" stroke="none"/><circle cx="765" cy="308" r="4" fill="#111" stroke="none"/>
<path d="M732 330 Q745 340 758 330" stroke-width="6"/>
<path d="M690 450 V412 Q690 376 730 372 L745 385 L760 372 Q800 376 800 412 V450 Z M715 420 V450 M775 420 V450"/>
<path d="M862 200 A50 50 0 1 1 850 299 L826 320 L832 290 A50 50 0 0 1 862 200 Z"/>
<path d="M838 232 V270 M838 251 H860 M860 232 V270 M878 246 V270" stroke-width="8"/><circle cx="878" cy="232" r="4.5" fill="#111" stroke="none"/>
</g>
<!-- nurse -->
<g stroke-width="8">
<path d="M1655 135 Q1632 190 1650 228 M1795 135 Q1818 190 1800 228"/>
<circle cx="1725" cy="185" r="55" fill="#fff"/>
<path d="M1655 95 Q1725 55 1795 95 L1790 138 Q1725 105 1660 138 Z" fill="#fff"/>
<path d="M1713 100 H1737 M1725 88 V112" stroke-width="7"/>
<circle cx="1703" cy="180" r="5" fill="#111" stroke="none"/><circle cx="1748" cy="180" r="5" fill="#111" stroke="none"/>
<path d="M1708 208 Q1725 222 1742 208" stroke-width="6"/>
<path d="M1603 322 Q1610 265 1680 255 L1725 300 L1770 255 Q1845 265 1852 322"/>
<path d="M1680 255 L1692 290 L1725 300 L1758 290 L1770 255 M1725 300 V322"/>
</g></g></svg>
<svg style="left:1100px;top:1080px" width="340" height="70" viewBox="0 0 1920 395">
<g fill="none" stroke="#111" stroke-width="8" stroke-linejoin="round" stroke-linecap="round">
<path d="M80 145 Q130 125 175 145 V295 Q130 280 80 295 Z"/>
<path d="M175 145 L245 100 V255 L175 295"/>
<path d="M65 160 V320 H165 Q175 332 185 320 H285 V160 M270 140 V302 L185 306"/>
<path d="M100 172 Q128 162 156 172 M100 196 Q128 186 156 196 M100 220 Q128 210 156 220 M100 244 Q128 234 156 244 M100 266 Q128 256 156 266" stroke-width="7"/>
<path d="M192 158 L230 134 M192 184 L230 160 M192 210 L230 186 M192 236 L230 212 M192 262 L230 238" stroke-width="7"/>
<path d="M1135 68 A82 82 0 1 1 1090 218 L1050 235 L1068 196 A82 82 0 0 1 1135 68 Z" stroke-width="12"/>
<circle cx="1098" cy="152" r="8.5" fill="#111" stroke="none"/><circle cx="1135" cy="152" r="8.5" fill="#111" stroke="none"/><circle cx="1172" cy="152" r="8.5" fill="#111" stroke="none"/>
<path d="M1690 245 L1775 170 L1800 192 V180 H1835 V222 L1860 245 M1710 240 V328 H1755 V275 H1795 V328 H1838 V240" stroke-width="11" stroke-linejoin="miter"/>
</g></svg>
<svg style="left:1510px;top:1070px" width="300" height="80" viewBox="0 0 1920 512">
<g fill="none" stroke="#111" stroke-width="8" stroke-linejoin="round" stroke-linecap="round">
<path d="M135 310 V252 Q135 240 147 240 H228 Q240 240 240 252 V310"/>
<rect x="158" y="285" width="62" height="26" rx="6"/>
<path d="M135 310 L100 400 V430 Q100 440 110 440 H270 Q280 440 280 430 V400 L245 310 M125 336 H255 M118 353 H262 M100 400 H280"/>
<path d="M110 441 V452 H140 V441 M238 441 V452 H268 V441"/>
<!-- salad -->
<path d="M765 198 H1000 Q1000 268 900 278 H865 Q765 268 765 198 Z" stroke-width="9"/>
<path d="M832 178 L940 62 M860 148 L858 110 M860 148 L905 150 M888 118 L884 84 M888 118 L930 118 M912 92 L945 90" stroke-width="7"/>
<path d="M842 168 Q830 130 850 108 Q848 80 876 78 Q880 50 910 52 Q935 32 955 52 Q975 72 960 95 Q972 118 948 132 Q940 158 905 160 Q880 180 842 168 Z" stroke-width="7"/>
<path d="M790 60 Q805 48 815 62 Q832 56 832 74 Q830 90 810 98 Q788 92 784 76 Q780 62 790 60 Z" stroke-width="7"/>
<path d="M768 152 Q765 132 785 132 Q795 118 810 132 Q826 134 822 152 Q815 162 800 158 V176 H788 V158 Q775 162 768 152 Z" stroke-width="7"/>
<circle cx="975" cy="158" r="25" stroke-width="7"/><circle cx="975" cy="158" r="9" stroke-width="7"/>
<path d="M985 62 Q1000 75 988 90 M905 182 Q918 170 930 182 M765 85 V88 M850 42 V45 M880 180 V183" stroke-width="7"/>
<!-- people -->
<g stroke-width="7">
<circle cx="1597" cy="216" r="20"/><circle cx="1756" cy="216" r="20"/>
<path d="M1562 262 H1634 V330 H1620 V400 H1602 V335 H1594 V400 H1576 V330 H1562 Z"/>
<path d="M1721 262 H1793 V330 H1779 V400 H1761 V335 H1753 V400 H1735 V330 H1721 Z"/>
<path d="M1628 205 Q1636 216 1628 228 M1642 198 Q1654 216 1642 234 M1657 192 Q1672 216 1657 240"/>
<path d="M1726 205 Q1718 216 1726 228 M1712 198 Q1700 216 1712 234 M1697 192 Q1682 216 1697 240"/>
</g>
</g></svg>

<div class="t" style="left:599.00px;top:1190.53px;width:200px;text-align:center;font-size:8.4px;line-height:10.92px;font-weight:400;color:#1f3540;letter-spacing:0px;">Customer service</div>
<div class="t" style="left:690.80px;top:1190.53px;width:200px;text-align:center;font-size:8.4px;line-height:10.92px;font-weight:400;color:#1f3540;letter-spacing:0px;">Nurse</div>
<div class="t" style="left:853.80px;top:1190.53px;width:200px;text-align:center;font-size:8.4px;line-height:10.92px;font-weight:400;color:#1f3540;letter-spacing:0px;">Nurse</div>
<div class="t" style="left:959.50px;top:1190.53px;width:200px;text-align:center;font-size:8.4px;line-height:10.92px;font-weight:400;color:#1f3540;letter-spacing:0px;">Machine</div>
<div class="t" style="left:1065.00px;top:1190.53px;width:200px;text-align:center;font-size:8.4px;line-height:10.92px;font-weight:400;color:#1f3540;letter-spacing:0px;">Nephrologist</div>
<div class="t" style="left:1264.00px;top:1190.53px;width:200px;text-align:center;font-size:8.4px;line-height:10.92px;font-weight:400;color:#1f3540;letter-spacing:0px;">Hospital staff</div>
<div class="t" style="left:1429.00px;top:1190.53px;width:200px;text-align:center;font-size:8.4px;line-height:10.92px;font-weight:400;color:#1f3540;letter-spacing:0px;">Being at home</div>
<div class="t" style="left:1545.30px;top:1190.53px;width:200px;text-align:center;font-size:8.4px;line-height:10.92px;font-weight:400;color:#1f3540;letter-spacing:0px;">Eating out</div>
<div class="t" style="left:1674.70px;top:1190.53px;width:200px;text-align:center;font-size:8.4px;line-height:10.92px;font-weight:400;color:#1f3540;letter-spacing:0px;">Office</div>
<!-- photo 1 -->
<svg style="left:650px;top:1200px" width="200" height="60" viewBox="0 0 1920 576">
<defs><clipPath id="ph1"><rect x="66" y="58" width="1676" height="452" rx="82"/></clipPath><filter id="bl1" x="-5%" y="-5%" width="110%" height="110%"><feGaussianBlur stdDeviation="11"/></filter></defs>
<g clip-path="url(#ph1)"><g filter="url(#bl1)">
<rect x="0" y="0" width="1920" height="576" fill="#b4cdd2"/>
<rect x="60" y="50" width="130" height="470" fill="#c3d8c6"/>
<rect x="160" y="50" width="640" height="250" fill="#9fbccb"/>
<rect x="380" y="60" width="100" height="300" fill="#d9e3cf"/>
<rect x="160" y="60" width="120" height="140" fill="#5d6c78"/>
<path d="M190 230 L260 170 L370 180 L440 380 L420 510 L220 510 Z" fill="#4a9bd9"/>
<path d="M470 210 L540 160 L640 170 L670 300 L560 330 L480 330 Z" fill="#5ba5da"/>
<ellipse cx="335" cy="120" rx="48" ry="55" fill="#bba79c"/><ellipse cx="575" cy="120" rx="40" ry="48" fill="#b8a79e"/>
<rect x="290" y="60" width="95" height="35" fill="#8e8f92"/><rect x="540" y="60" width="75" height="30" fill="#9a9b9e"/>
<path d="M520 320 L600 270 L700 300 L700 520 L520 520 Z" fill="#3b4655"/>
<path d="M700 290 L780 250 L830 300 L860 470 L820 520 L710 520 Z" fill="#35404e"/>
<ellipse cx="660" cy="350" rx="40" ry="50" fill="#b99f93"/><ellipse cx="790" cy="310" rx="35" ry="42" fill="#b79d90"/>
<path d="M520 440 L700 400 L830 380 L830 520 L520 520 Z" fill="#3d96dc"/>
<rect x="380" y="390" width="150" height="130" fill="#2f3a47"/>
<rect x="800" y="50" width="210" height="290" fill="#e6f0f2"/>
<rect x="1010" y="50" width="300" height="230" fill="#8eaec7"/>
<rect x="1120" y="50" width="90" height="40" fill="#4aa0e0"/>
<rect x="1310" y="50" width="150" height="120" fill="#c9b97f"/>
<rect x="860" y="300" width="460" height="220" fill="#a8b8ba"/>
<rect x="860" y="380" width="150" height="140" fill="#cfdde2"/>
<path d="M1000 285 L1060 300 L1140 420 L1060 470 L1000 400 Z" fill="#3a4753"/>
<path d="M920 360 L1000 350 L1000 400 L920 400 Z" fill="#4b5a68"/>
<ellipse cx="1375" cy="235" rx="85" ry="80" fill="#6d675f"/><ellipse cx="1325" cy="290" rx="40" ry="45" fill="#b59f91"/>
<path d="M1220 440 L1300 340 L1450 300 L1530 380 L1530 520 L1210 520 Z" fill="#8697aa"/>
<rect x="1460" y="50" width="290" height="470" fill="#b29c7a"/>
<rect x="1470" y="70" width="90" height="180" fill="#d8dccd"/>
<rect x="1560" y="60" width="140" height="130" fill="#54626e"/>
<path d="M1540 300 L1640 270 L1650 470 L1540 460 Z" fill="#36424e"/>
<rect x="1690" y="350" width="60" height="130" fill="#3b8fd6"/>
</g><rect x="0" y="0" width="1920" height="576" fill="#caf4fd" opacity="0.22"/></g></svg>
<!-- photo 2 -->
<svg style="left:865px;top:1200px" width="380" height="60" viewBox="0 0 1920 303">
<defs><clipPath id="ph2"><rect x="37" y="30" width="1849" height="239" rx="42"/></clipPath><filter id="bl2" x="-5%" y="-5%" width="110%" height="110%"><feGaussianBlur stdDeviation="5"/></filter></defs>
<g clip-path="url(#ph2)"><g filter="url(#bl2)">
<rect x="0" y="0" width="1920" height="303" fill="#cfdcd8"/>
<rect x="380" y="25" width="500" height="100" fill="#d9e5dc"/>
<rect x="380" y="122" width="500" height="16" fill="#cfc6a4"/>
<rect x="380" y="138" width="500" height="30" fill="#9db49e"/>
<rect x="380" y="168" width="500" height="68" fill="#d4c8a8"/>
<rect x="540" y="236" width="340" height="40" fill="#7d6c63"/>
<rect x="630" y="240" width="30" height="26" fill="#d5dde0"/><rect x="690" y="240" width="30" height="26" fill="#d5dde0"/><rect x="740" y="240" width="30" height="26" fill="#d5dde0"/><rect x="790" y="238" width="30" height="28" fill="#e3eaec"/>
<rect x="30" y="25" width="140" height="100" fill="#7e9a78"/>
<rect x="30" y="100" width="55" height="180" fill="#4a9de2"/>
<path d="M80 150 L140 130 L170 270 L80 270 Z" fill="#b9a392"/>
<path d="M125 150 Q130 40 270 32 Q380 40 390 110 L300 100 L200 140 L160 250 L130 230 Z" fill="#3c4650"/>
<path d="M190 130 L300 90 L390 115 L400 160 L300 150 L290 250 L200 230 Z" fill="#8d7366"/>
<path d="M200 190 L290 160 L300 260 L230 268 Z" fill="#4a4640"/>
<path d="M275 150 L390 130 L425 200 L400 268 L300 268 Z" fill="#e3dec7"/>
<path d="M420 165 Q500 150 540 230 L560 275 L400 275 Z" fill="#ab9181"/>
<rect x="878" y="25" width="185" height="250" fill="#b3c6cf"/>
<rect x="860" y="25" width="180" height="50" fill="#c4ced2"/>
<rect x="1063" y="25" width="350" height="250" fill="#e0e8eb"/>
<rect x="1075" y="95" width="280" height="25" fill="#c5d0d6"/>
<path d="M1075 230 Q1080 150 1140 150 L1140 165 Q1095 170 1090 268 L1075 268 Z" fill="#6a7880"/>
<rect x="1140" y="150" width="220" height="115" fill="#b7c4ca"/>
<rect x="1290" y="160" width="60" height="90" fill="#8fa0a8"/><rect x="1170" y="220" width="70" height="50" fill="#98a8ae"/>
<rect x="1410" y="25" width="40" height="250" fill="#b9929a"/>
<rect x="1350" y="140" width="130" height="22" fill="#eef3f4"/>
<rect x="1440" y="25" width="450" height="250" fill="#d9dfe2"/>
<rect x="1780" y="25" width="110" height="110" fill="#c9b895"/>
<path d="M1540 25 L1720 25 L1700 130 L1620 200 L1560 180 Z" fill="#a17c69"/>
<path d="M1450 70 L1590 60 L1640 100 L1580 175 L1480 180 L1450 130 Z" fill="#e4e0c5"/>
<path d="M1690 25 L1800 25 L1860 120 L1870 200 L1790 160 L1740 110 Z" fill="#5d4b45"/>
<path d="M1450 230 L1560 190 L1700 130 L1760 150 L1890 200 L1890 275 L1450 275 Z" fill="#e6eaee"/>
</g><rect x="0" y="0" width="1920" height="303" fill="#caf4fd" opacity="0.2"/></g></svg>
<!-- photo 3 -->
<svg style="left:1255px;top:1200px" width="200" height="60" viewBox="0 0 1920 576">
<defs><clipPath id="ph3"><rect x="84" y="58" width="1752" height="452" rx="82"/></clipPath><filter id="bl3" x="-5%" y="-5%" width="110%" height="110%"><feGaussianBlur stdDeviation="10"/></filter></defs>
<g clip-path="url(#ph3)"><g filter="url(#bl3)">
<rect x="0" y="0" width="1920" height="576" fill="#b3c4c3"/>
<rect x="80" y="50" width="310" height="95" fill="#5d6d74"/>
<rect x="80" y="140" width="110" height="380" fill="#76847f"/>
<rect x="190" y="120" width="90" height="220" fill="#d3e3ea"/>
<rect x="80" y="350" width="220" height="40" fill="#d5e4ea"/>
<rect x="80" y="390" width="200" height="130" fill="#74858a"/>
<rect x="620" y="58" width="170" height="90" fill="#5f7078"/>
<rect x="680" y="100" width="110" height="200" fill="#c2cdc4"/>
<path d="M380 50 L610 50 L560 150 L620 350 L700 520 L255 520 L300 200 Z" fill="#d9edf6"/>
<path d="M520 60 L610 60 L600 110 L550 140 Z" fill="#bfa79a"/>
<path d="M450 120 L540 330 L520 340 L430 150 Z" fill="#b5cbd8"/>
<path d="M600 330 Q590 160 690 140 Q760 150 770 220 L700 200 L680 340 Z" fill="#48535f"/>
<ellipse cx="730" cy="250" rx="42" ry="55" fill="#c2a79b"/>
<path d="M610 340 L700 290 L740 350 L790 290 L880 360 L840 520 L700 520 Z" fill="#2d7dc8"/>
<ellipse cx="925" cy="420" rx="70" ry="75" fill="#bbaca5"/>
<path d="M880 360 Q950 320 1000 390 L960 380 L900 380 Z" fill="#4a4f58"/>
<rect x="840" y="58" width="85" height="300" fill="#76867e"/>
<rect x="940" y="58" width="275" height="295" fill="#94897a"/>
<rect x="960" y="100" width="120" height="180" fill="#b3bba9"/>
<rect x="1090" y="80" width="120" height="270" fill="#8a6c55"/>
<rect x="1240" y="58" width="195" height="295" fill="#92887a"/>
<rect x="1250" y="70" width="110" height="90" fill="#c5d3cc"/>
<rect x="1270" y="160" width="80" height="180" fill="#85664f"/>
<rect x="1510" y="58" width="330" height="330" fill="#98a398"/>
<rect x="1530" y="70" width="190" height="200" fill="#c9d6cf"/>
<rect x="1750" y="58" width="90" height="330" fill="#5e695f"/>
<rect x="960" y="390" width="250" height="130" fill="#7a7d76"/>
<rect x="1240" y="390" width="190" height="130" fill="#7d8882"/>
<rect x="1510" y="440" width="330" height="80" fill="#8b9692"/>
<g fill="#d4e6ed"><rect x="785" y="50" width="55" height="470"/><rect x="920" y="50" width="22" height="310"/><rect x="1210" y="50" width="32" height="470"/><rect x="1430" y="50" width="80" height="470"/><rect x="1000" y="350" width="840" height="38"/><rect x="1480" y="395" width="360" height="45"/></g>
</g><rect x="0" y="0" width="1920" height="576" fill="#caf4fd" opacity="0.2"/></g></svg>
<!-- photo 4 -->
<svg style="left:1470px;top:1200px" width="360" height="60" viewBox="0 0 1920 320">
<defs><clipPath id="ph4"><rect x="39" y="32" width="1820" height="252" rx="46"/></clipPath><filter id="bl4" x="-5%" y="-5%" width="110%" height="110%"><feGaussianBlur stdDeviation="9"/></filter></defs>
<g clip-path="url(#ph4)"><g filter="url(#bl4)">
<rect x="0" y="0" width="1920" height="320" fill="#7a8794"/>
<rect x="30" y="25" width="460" height="270" fill="#858a9c"/>
<path d="M60 60 L160 40 L200 280 L120 290 Z" fill="#7a8094"/><path d="M200 40 L330 40 L300 200 L180 260 Z" fill="#9196a8"/>
<path d="M300 200 L470 170 L680 180 L700 290 L200 290 Z" fill="#7f8598"/>
<path d="M500 30 L690 30 L665 170 L520 178 L455 140 Z" fill="#cbdbe8"/>
<rect x="675" y="25" width="60" height="270" fill="#46566a"/>
<rect x="720" y="25" width="800" height="270" fill="#a59a9b"/>
<path d="M720 30 L1000 30 L960 120 L900 200 L780 250 L720 250 Z" fill="#bab0b0"/>
<path d="M950 70 Q1020 40 1080 90 L1090 170 Q1040 220 980 190 Z" fill="#c3bcbd"/>
<path d="M810 90 L870 160 L900 210 L880 215 L800 100 Z" fill="#8a7f82"/>
<path d="M1080 40 L1500 40 L1500 120 L1300 90 L1150 80 Z" fill="#8f8788"/>
<ellipse cx="1240" cy="118" rx="62" ry="42" fill="#4c5f69"/>
<path d="M1100 180 L1400 170 L1500 200 L1300 270 L1000 270 L980 210 Z" fill="#938a8e"/>
<path d="M1460 40 L1860 30 L1860 290 L1330 290 L1400 230 L1560 170 Z" fill="#4c6d7c"/><path d="M1380 40 L1500 40 L1560 170 L1400 230 L1330 290 L1280 290 L1330 230 L1470 170 Z" fill="#6f7f88"/>
<path d="M1280 60 L1400 50 L1460 110 L1360 130 Z" fill="#6b7078"/>
<rect x="470" y="268" width="880" height="30" fill="#dceaf1"/>
<ellipse cx="765" cy="272" rx="40" ry="16" fill="#9ac671"/><ellipse cx="1220" cy="252" rx="38" ry="32" fill="#8ec36c"/>
</g><rect x="0" y="0" width="1920" height="320" fill="#9cecfc" opacity="0.12"/></g></svg>

<!-- circle 1 -->
<svg style="left:640px;top:200px" width="210" height="200" viewBox="0 0 1639 1561">
<defs><clipPath id="cc1"><circle cx="815" cy="805" r="690"/></clipPath></defs>
<g clip-path="url(#cc1)" stroke-linejoin="round" stroke-linecap="round">
<rect width="1639" height="1561" fill="#b2d8e1"/>
<path d="M0 0 L385 265 L520 440 Q548 480 538 600 L505 900 L448 1205 L335 1292 L0 1500 Z" fill="#f0f7fa"/>
<path d="M150 800 L440 790 L430 930 L140 960 Z" fill="#dcebf1" opacity="0.8"/>
<path d="M385 265 L520 440 Q548 480 538 600 L505 900 L448 1205 L335 1292" fill="none" stroke="#147a97" stroke-width="11"/>
<path d="M372 285 L492 445 Q516 485 510 600 L478 900 L428 1190 L330 1268" fill="none" stroke="#147a97" stroke-width="4"/>
<!-- man -->
<path d="M600 610 C598 570 640 520 700 495 C760 470 830 478 880 500 C940 515 1000 540 1030 590 C1060 640 1085 690 1085 715 C1090 750 1078 780 1062 798 L1130 910 L1215 950 L1465 1040 L1640 1100 L1640 1561 L430 1561 L460 1395 L545 1215 L790 1040 L775 1010 L720 900 L690 800 L650 700 L635 665 Z" fill="#fff" stroke="#147a97" stroke-width="10"/>
<g fill="none" stroke="#4a9cb5" stroke-width="4">
<path d="M640 680 C650 600 720 550 800 535 C830 530 850 535 860 560 C880 600 940 620 965 625 C975 700 950 760 880 790 C830 790 780 790 720 800" stroke="#2d88a4"/>
<path d="M965 625 L1030 780 L1020 960 L870 1040 L790 1010 C740 960 710 880 700 800" stroke="#147a97" stroke-width="5.5"/>
<path d="M740 640 Q790 595 845 608"/><path d="M775 665 Q805 645 835 650 Q810 680 785 672"/>
<path d="M660 720 Q670 700 690 700"/><path d="M700 700 L700 780 Q730 800 765 770"/>
<path d="M735 860 Q790 800 860 825 Q870 850 850 870"/><path d="M740 900 Q790 870 840 880"/>
<path d="M1030 660 Q1075 660 1075 720 Q1070 770 1050 790"/>
<path d="M790 1040 L768 1275 L812 1190 L990 1380 L1010 1470" stroke="#147a97" stroke-width="6.5"/>
<path d="M1160 930 L1050 1200 L1110 1280 L1215 955" stroke="#147a97" stroke-width="6"/>
<path d="M1050 1200 L1005 1480 M1025 1330 L1035 1470" stroke="#147a97" stroke-width="5"/>
<path d="M720 1150 L610 1400 M760 1100 L690 1260" stroke-width="3"/>
<path d="M545 1215 L555 1420" stroke-width="3"/>
</g>
</g></svg>
<!-- circle 2 -->
<svg style="left:950px;top:200px" width="210" height="200" viewBox="0 0 1639 1561">
<defs><clipPath id="cc2"><circle cx="822" cy="770" r="725"/></clipPath></defs>
<g clip-path="url(#cc2)" stroke-linejoin="round" stroke-linecap="round">
<rect width="1639" height="1561" fill="#aad4dd"/>
<!-- chair cushion -->
<path d="M90 630 L135 625 L245 745 L255 835 L90 880 Z" fill="#9fcbd8" stroke="#147a97" stroke-width="5"/>
<path d="M450 770 L530 665 L620 690 L690 850 L640 852 L440 800 Z" fill="#a4cfdb" stroke="#147a97" stroke-width="5"/>
<!-- machine -->
<path d="M1215 180 L1260 185 L1265 200 L1639 240 L1639 1400 L1400 1255 L1290 1180 L1215 1060 Z" fill="#fff"/>
<path d="M1010 365 L1215 330 L1215 1060 L1100 1062 L1010 1000 Z" fill="#fff" stroke="#147a97" stroke-width="5"/>
<path d="M975 290 L1080 270 L1092 392 L985 402 Z" fill="#fff" stroke="#147a97" stroke-width="5"/>
<path d="M968 410 L1106 390 L1106 572 L1000 570 Z" fill="#fff" stroke="#147a97" stroke-width="5"/>
<path d="M1095 350 L1140 345 Q1150 310 1215 305" fill="none" stroke="#147a97" stroke-width="5"/>
<g stroke="#3f93ad" stroke-width="3" fill="none">
<path d="M1015 410 V568 M1030 408 V568 M1045 406 V568 M1060 404 V570 M1075 402 V570 M1090 400 V570"/>
<path d="M1215 180 V1060 M1250 185 V475 L1480 500 V600 M1265 205 V455 L1460 478 M1230 600 H1530 M1230 620 H1530"/>
<path d="M1455 420 V590 M1500 520 V570"/>
<circle cx="1275" cy="790" r="120"/><circle cx="1355" cy="780" r="45"/><circle cx="1440" cy="860" r="110"/>
<path d="M1330 680 H1380 M1410 690 H1500 M1300 740 V840 M1480 720 V800 M1400 770 H1470 V850"/>
<path d="M1225 980 L1320 1040 L1300 1150 L1230 1150 Z M1330 1030 L1420 1000 L1460 1090"/>
<path d="M1500 600 L1540 880 L1480 960"/>
</g>
<!-- seat dark -->
<path d="M740 1075 L1100 1200 L1205 1375 L800 1278 Z" fill="#93c5d4" stroke="#147a97" stroke-width="5"/>
<path d="M1205 1375 L1385 1235 L1300 1185 L1310 1290 Z" fill="#8fc3d2" stroke="#147a97" stroke-width="5"/>
<!-- lower chair -->
<path d="M420 1365 L600 1292 L800 1280 L1210 1380 L1035 1470 L720 1492 Z" fill="#fff" stroke="#147a97" stroke-width="5"/>
<path d="M480 1350 L720 1490 M560 1340 L800 1480 M840 1310 L1030 1465 M880 1300 L1080 1450" fill="none" stroke="#147a97" stroke-width="5"/>
<!-- body -->
<path d="M0 900 L215 840 L440 800 L640 850 L770 870 L800 920 L870 990 L1000 1005 L1100 1060 L1290 1180 L1312 1290 L1210 1372 L1110 1210 L870 1090 L740 1070 L790 1270 L600 1292 L330 1290 L300 1170 L220 1170 L0 1120 Z" fill="#fff" stroke="#147a97" stroke-width="7.5"/>
<!-- head -->
<path d="M165 470 C180 430 230 400 300 385 L390 400 L400 440 C440 480 480 560 500 620 L520 700 L450 770 L440 800 L250 830 L235 745 L175 690 C150 660 150 640 165 620 C150 560 150 510 165 470 Z" fill="#fff" stroke="#147a97" stroke-width="7.5"/>
<g fill="none" stroke="#4a9cb5" stroke-width="3.6">
<path d="M230 520 C260 470 320 440 380 450 M230 520 C230 580 250 640 300 690 C340 700 390 690 410 650"/>
<path d="M300 560 Q330 540 365 550 M420 520 Q445 510 465 525 M320 590 Q345 575 365 590 M440 555 Q455 548 470 560"/>
<path d="M430 580 L450 640 L420 650 M410 680 Q450 660 490 680 Q480 700 440 705"/>
<path d="M180 670 Q200 650 215 680 Q210 700 195 700"/>
<path d="M215 840 L300 900 L340 860 L440 800 L470 880"/>
<path d="M455 860 L520 1050 L560 1100 M480 850 L545 1040"/>
<path d="M640 850 L700 940 L740 1070 M690 870 L760 1000 L870 1090 M730 880 L850 1000 M780 950 L880 1010"/>
<path d="M300 1170 L600 1100 L700 1190 L690 1230 L590 1240 M600 1100 L640 1160 M580 1180 L690 1210"/>
<path d="M1110 1210 L1150 1330 M1160 1200 L1200 1340 M1210 1210 L1240 1330 M1260 1220 L1270 1310"/>
</g>
</g></svg>
<!-- circle 3 -->
<svg style="left:1254px;top:200px" width="210" height="200" viewBox="0 0 1639 1561">
<defs><clipPath id="cc3"><circle cx="822" cy="770" r="725"/></clipPath></defs>
<g clip-path="url(#cc3)" stroke-linejoin="round" stroke-linecap="round">
<rect width="1639" height="1561" fill="#a3cfdb"/>
<!-- interior -->
<path d="M95 795 C300 675 540 540 850 400 C1000 350 1160 312 1352 282 L1639 250 L1639 1100 L850 1350 L470 1400 L95 1100 Z" fill="#d6e7ee"/>
<!-- pillar -->
<path d="M0 760 C300 580 540 450 850 317 C1000 270 1150 235 1283 213 L1400 270 L1352 282 C1160 312 1000 350 850 400 C540 540 300 675 0 850 Z" fill="#93c7d6"/>
<g fill="none" stroke="#147a97" stroke-width="6">
<path d="M140 537 C300 450 540 340 850 240 C1000 205 1100 185 1214 170"/><path d="M109 695 C300 580 540 450 850 317 C1000 270 1150 235 1283 213" stroke-width="7"/><path d="M101 788 C300 670 540 535 850 394 C1000 345 1160 309 1352 278" stroke-width="10"/>

</g>
<!-- back seat & headrest -->
<path d="M520 770 L565 565 L720 520 L830 540 L860 600 L760 770 Z" fill="#e6f0f5" stroke="#147a97" stroke-width="4"/>
<path d="M680 660 Q700 560 790 540" fill="none" stroke="#147a97" stroke-width="3"/>
<path d="M1180 470 L1310 445 L1400 560 L1425 760 L1380 790 L1200 745 Z" fill="#dbe9ef" stroke="#5aa2b8" stroke-width="4"/>
<path d="M1340 480 L1460 470 L1520 600 L1500 780 L1430 760" fill="#e3eef3" stroke="#5aa2b8" stroke-width="3"/>
<path d="M1230 420 L1460 400 M1380 300 L1460 480" fill="none" stroke="#5aa2b8" stroke-width="3"/>
<path d="M340 820 L420 610 M365 830 L440 630" fill="none" stroke="#5aa2b8" stroke-width="3"/>
<!-- seatbelt back -->
<path d="M1290 745 L1490 585 L1525 620 L1345 785 Z" fill="#2f8eaa"/>
<!-- raised arm/hand -->
<path d="M560 840 L760 650 L820 600 L850 480 L905 420 L960 440 L930 560 L870 640 L830 730 L745 835 Z" fill="#fff" stroke="#147a97" stroke-width="5"/>
<!-- head -->
<path d="M905 450 L1000 400 L1140 340 L1200 420 L1215 470 L1185 600 L1150 690 L1090 760 L1000 778 L900 720 L890 650 L912 560 Z" fill="#fff" stroke="#147a97" stroke-width="7.5"/>
<!-- upper torso -->
<path d="M740 850 L800 780 L900 770 L1000 782 L1150 700 L1300 770 L1165 850 L1100 860 Z" fill="#fff" stroke="#147a97" stroke-width="5"/>
<path d="M1065 850 L1165 790 L1185 800 L1095 862 Z" fill="#2f8eaa"/>
<!-- lower torso -->
<path d="M750 1045 L1220 1040 L1345 1110 L1300 1250 L850 1350 L722 1378 Z" fill="#fff" stroke="#147a97" stroke-width="5"/>
<path d="M822 1060 L900 1058 L765 1305 L725 1372 L748 1250 Z" fill="#1f85a3"/>
<!-- steering wheel -->
<path d="M170 940 L330 1000 L470 1200 L560 1390 L440 1385 L340 1200 L190 1080 L150 1000 Z" fill="#fff" stroke="#147a97" stroke-width="5"/>
<path d="M210 1010 Q380 1090 470 1380" fill="none" stroke="#147a97" stroke-width="3"/>
<!-- horizontal arm -->
<path d="M105 830 L400 850 L1100 852 L1165 848 L1283 780 Q1355 735 1391 811 Q1397 900 1383 965 L1345 1110 L1220 1040 L500 992 L390 975 L170 940 L105 900 Z" fill="#fff" stroke="#147a97" stroke-width="7.5"/>
<g fill="none" stroke="#4a9cb5" stroke-width="3.6">
<path d="M400 850 L390 975 M490 852 L480 988"/>
<path d="M170 940 Q150 900 200 880 M180 1080 Q160 1000 230 960"/>
<path d="M912 460 Q1000 430 1050 470 L1080 560 Q1110 540 1130 560 Q1140 600 1110 640 L1085 680 Q1040 770 1000 778"/>
<path d="M930 560 Q970 550 1010 570 M890 650 Q910 650 920 640 M900 690 Q930 670 960 690 Q950 720 915 712"/>
<path d="M1130 560 Q1170 540 1180 590 Q1170 640 1140 650"/>
<path d="M920 790 L940 850 M960 790 L980 850" stroke-width="3"/>
</g>
<!-- door bottom -->
<path d="M440 1405 L850 1350 L1500 1040 L1639 1000 L1639 1561 L400 1561 Z" fill="#a3cfdb"/>
<g fill="none" stroke="#2f8eaa" stroke-width="5"><path d="M790 1372 L1500 1045"/><path d="M930 1392 L1500 1100"/><path d="M1060 1425 L1500 1160"/></g>
</g></svg>
<!-- circle 4 -->
<svg style="left:1535px;top:200px" width="210" height="200" viewBox="0 0 1639 1561">
<defs><clipPath id="cc4"><circle cx="817" cy="770" r="725"/></clipPath></defs>
<g clip-path="url(#cc4)" stroke-linejoin="round" stroke-linecap="round">
<rect width="1639" height="1561" fill="#b3d9e0"/>
<path d="M380 1350 L400 1260 L470 1100 L480 1000 L490 880 L520 760 L600 640 L690 570 L720 500 L700 440 C680 400 675 350 690 290 C720 220 800 170 900 150 C960 145 1030 160 1080 190 C1140 230 1185 280 1190 330 L1170 460 L1150 500 L1160 570 L1300 600 L1480 690 L1560 800 L1639 900 L1639 1561 L450 1561 L530 1440 Z" fill="#fff" stroke="#147a97" stroke-width="9"/>
<path d="M742 1100 L800 1312 L636 1318 Z" fill="#a5cedb" stroke="#147a97" stroke-width="5"/>
<g fill="none" stroke="#4a9cb5" stroke-width="3.8">
<path d="M636 1320 L1150 1318 L1200 1400" stroke-width="7"/><path d="M530 1440 L636 1320"/>
<path d="M735 390 C760 440 820 470 900 465 C980 455 1040 420 1060 400 L1080 520 L1060 560" stroke="#2d88a4"/>
<path d="M735 390 L740 560 L760 600"/>
<path d="M770 590 Q800 575 850 600 M960 600 Q1000 580 1030 600"/><path d="M790 620 Q815 635 840 625 M965 625 Q990 640 1015 620"/>
<path d="M850 680 Q840 720 880 735 Q920 740 940 700"/>
<path d="M840 770 Q900 740 985 765 L960 805 Q900 825 860 800 Z"/><path d="M885 800 L890 815 L920 815 L925 800"/>
<path d="M770 690 C790 780 850 850 930 865 C990 860 1050 810 1075 740" stroke-width="6"/>
<!-- left hand -->
<path d="M690 570 L745 500 L740 640 L720 720 L770 830 L760 900 L600 640"/><path d="M600 640 C620 780 680 860 760 900 L740 1100 L470 1100" stroke="#2d88a4"/>
<path d="M700 620 L735 540 M715 680 L745 600"/>
<!-- right hand -->
<path d="M1060 520 L1160 700 L1200 800 L1180 900 L1060 930 M1100 540 L1200 690 L1240 720 L1230 800 L1200 900 L1330 1180 L1360 1240" stroke="#2d88a4"/>
<path d="M1080 600 L1150 720 M1120 580 L1190 700"/>
<path d="M1060 930 L1150 1320" stroke="#2d88a4"/>
<!-- shirt -->
<path d="M770 905 L850 920 L930 870 M850 920 L950 1000 L960 1180 L1040 1170 L1050 1000 L980 1040"/>
<circle cx="950" cy="992" r="12"/><circle cx="995" cy="1115" r="12"/>
<path d="M1060 930 L980 1040 M470 1100 Q520 1080 560 1040 M500 1000 Q540 1040 600 1050" stroke-width="3"/>
<path d="M1300 1090 L1450 1110 M1310 1140 L1420 1165" />
<path d="M1290 750 Q1240 850 1250 920 M1400 960 Q1350 1000 1340 1040 M540 800 Q560 860 600 900 M1480 690 Q1380 760 1380 900" stroke-width="2.5"/>
</g>
</g></svg>

<div style="left:99.5px;top:459.5px;width:300.8px;height:735.5px;border:4.2px solid #cff2fb;border-radius:9px;box-sizing:border-box"></div>
<svg style="left:90px;top:320px" width="320" height="280" viewBox="0 0 1784 1561">
<circle cx="903" cy="738" r="702" fill="#b0d7e0"/>
<g stroke-linejoin="round" stroke-linecap="round">
<path d="M767 520 L770 558 L740 575 L735 635 L505 740 C485 760 470 800 460 850 L450 1000 L470 1150 L500 1250 L560 1265 L680 1272 L760 1262 L970 1278 L1080 1255 L1255 1250 L1288 1180 L1300 1000 L1285 850 C1280 800 1260 760 1230 720 L1015 640 L1000 570 L974 562 L967 530 Z" fill="#fff" stroke="#0f7593" stroke-width="11"/>
<path d="M716.8 347.9 C716.2 339.6 712.6 316.9 713.2 297.9 C713.8 278.8 716.2 253.8 720.4 233.6 C724.6 213.4 730.5 192.0 738.2 176.5 C745.9 161.0 754.3 149.9 766.8 140.7 C779.3 131.5 797.1 125.0 813.2 121.1 C829.3 117.2 848.3 116.6 863.2 117.5 C878.1 118.4 891.8 122.0 902.5 126.5 C913.2 131.0 916.2 136.6 927.5 144.3 C938.8 152.0 956.7 162.8 970.4 172.9 C984.1 183.0 999.6 193.1 1009.7 205.0 C1019.8 216.9 1026.0 231.2 1031.1 244.3 C1036.1 257.4 1038.8 269.9 1040.0 283.6 C1041.2 297.3 1039.7 315.2 1038.2 326.5 C1036.7 337.8 1030.5 344.4 1031.1 351.5 C1031.7 358.6 1040.6 360.4 1041.8 369.3 C1043.0 378.2 1041.2 393.1 1038.2 405.0 C1035.2 416.9 1029.3 432.9 1024.0 440.7 C1018.6 448.4 1010.3 446.7 1006.1 451.5 C1001.9 456.3 1002.0 460.4 999.0 469.3 C996.0 478.2 993.6 493.7 988.2 505.0 C982.8 516.3 975.7 527.1 966.8 537.2 C957.9 547.3 946.0 557.4 934.7 565.7 C923.4 574.0 909.7 583.0 899.0 587.2 C888.3 591.4 879.9 591.3 870.4 590.7 C860.9 590.1 853.7 589.6 841.8 583.6 C829.9 577.6 811.5 565.1 799.0 555.0 C786.5 544.9 773.9 534.2 766.8 522.9 C759.6 511.6 758.8 499.7 756.1 487.2 C753.4 474.7 755.5 456.2 750.7 447.9 C745.9 439.6 734.0 444.3 727.5 437.2 C721.0 430.1 714.8 416.9 711.5 405.0 C708.2 393.1 707.0 375.2 707.9 365.7 C708.8 356.2 715.3 350.9 716.8 347.9 Z" fill="#fff" stroke="#0f7593" stroke-width="10"/>
<g fill="none" stroke="#0f7593" stroke-width="6.5">
<path d="M770 558 C800 590 880 605 960 575 L974 562"/>
<path d="M740 575 L735 635 L810 760 L835 690 L880 690 L960 750 L1015 640 L1000 570"/>
<path d="M775 610 L880 690 L985 600" stroke-width="3"/>
<path d="M850 700 L840 1060 L860 1090" stroke-width="7"/>
<circle cx="884" cy="768" r="10"/><circle cx="878" cy="915" r="11"/>
<path d="M495 1000 C540 960 600 970 650 1000 L720 1075 M520 1040 L600 1090 M500 1000 L560 1080 M545 960 L640 1040"/>
<path d="M510 1130 C520 1090 600 1095 670 1085 L770 1080 L760 1262 M670 1085 L660 1268"/>
<path d="M770 1095 L870 1075 L900 1050 L1100 1055 M870 1075 L895 1130 L945 1120 L930 1065"/>
<path d="M760 1250 L1040 1130 L1210 1105 M925 1185 L1035 1150 L1075 1255 M925 1185 L965 1275"/>
<path d="M1100 1055 C1130 1010 1140 960 1150 900" stroke-width="3"/>
<path d="M520 780 Q580 830 610 930 M640 760 Q630 820 640 850 M1050 720 Q1060 800 1090 880 M1160 740 Q1140 820 1120 870 M1230 790 Q1180 850 1150 900 M1270 870 Q1200 920 1150 990" stroke-width="3"/>
<g stroke="#3f93ad" stroke-width="3.2">
<path d="M791.8 240.7 C807.3 239.5 862.1 235.4 884.7 233.6 C907.3 231.8 913.2 228.8 927.5 230.0 C941.8 231.2 960.3 234.1 970.4 240.7 C980.5 247.2 982.9 255.0 988.2 269.3 C993.6 283.6 998.3 312.2 1002.5 326.5 C1006.7 340.8 1012.6 344.9 1013.2 355.0 C1013.8 365.1 1011.5 375.3 1006.1 387.2 C1000.8 399.1 988.8 417.6 981.1 426.5 C973.4 435.4 969.8 439.8 959.7 440.7 C949.6 441.6 932.9 432.4 920.4 431.8 C907.9 431.2 896.6 437.8 884.7 437.2 C872.8 436.6 863.3 427.6 849.0 428.2 C834.7 428.8 812.1 441.0 799.0 440.7 C785.9 440.4 777.5 435.4 770.4 426.5 C763.2 417.6 757.3 401.5 756.1 387.2 C754.9 372.9 760.8 355.6 763.2 340.7 C765.6 325.8 765.6 314.6 770.4 297.9 C775.2 281.2 788.2 250.2 791.8 240.7"/><path d="M770.4 333.6 C775.2 331.8 784.7 325.0 799.0 322.9 C813.3 320.8 845.4 319.3 856.1 321.1 C866.8 322.9 862.0 331.5 863.2 333.6"/><path d="M909.7 330.0 C912.7 328.2 917.4 320.5 927.5 319.3 C937.6 318.1 959.1 320.5 970.4 322.9 C981.7 325.3 991.2 331.8 995.4 333.6"/>
<path d="M799.0 358.6 C802.6 357.1 812.7 350.0 820.4 349.7 C828.1 349.4 841.2 355.6 845.4 356.8"/><path d="M916.8 358.6 C920.4 357.1 929.9 350.0 938.2 349.7 C946.5 349.4 962.0 355.6 966.8 356.8"/>
<circle cx="822.2" cy="360.4" r="8" stroke="#7fb9cb"/><circle cx="941.8" cy="360.4" r="8" stroke="#7fb9cb"/>
<path d="M809.7 462.2 L881.1 453.2 L952.5 462.2 L934.7 512.2 L924.0 526.5 L899.0 526.5 L895.4 512.2 L877.5 510.4 L874.0 526.5 L849.0 528.2 L834.7 512.2 L809.7 462.2" stroke-width="4"/><path d="M824.0 471.1 C833.5 471.9 861.5 475.7 881.1 475.7 C900.7 475.7 931.7 471.9 941.8 471.1"/><path d="M841.8 485.4 C848.3 486.2 868.0 490.0 881.1 490.0 C894.2 490.0 913.9 486.2 920.4 485.4" stroke="#9cc9d6"/>
</g>
</g></g></svg>

<div class="t" style="left:40.00px;top:595.35px;width:420px;text-align:center;font-size:14px;line-height:18.2px;font-weight:700;color:#111;letter-spacing:0.35px;">GABRIEL</div>
<div class="t" style="left:124.30px;top:632.78px;width:290px;text-align:left;font-size:10.55px;line-height:18.73px;font-weight:400;color:#2a2a2a;letter-spacing:0.06px;white-space:nowrap;"><b>Diagnosed</b>: 4 years ago with 8% kidney functionality<br><b>Career</b>: IT specialist, my ambitions were puton hold<br>for now, but ambitious to get back to work<br><b>Partner</b>: I live a single life<br><br>My name is Gabriel. I’m 48 years old and got<br>diagnosed with bad kidneys some 4 years ago. I guess<br>I am what they call a kidney patient now.<br><br>This news made <b>huge impact on my daily life</b>. I have<br>to get dialysis every three days, until I get a kidney<br>transplant. Until then, I have to be <b>treated at the</b><br><b>hospital</b>. I can not do the treatment at home,<br>because I do not have a partner to help me out in case<br>anything goes wrong.<br><br>The treatment itself was <b>scary at first</b>, but I <b>got</b><br><b>used to it</b> fairly quickly. The hardest part about<br>dialysis is the <b>boredom</b>. I want to be able to do stuff,<br>but I can’t because of the <b>limited freedom of</b><br><b>movement</b>. When I get back home, <b>headaches and</b><br><b>other nasty things</b> kick in, which sucks.<br><br>I have to <b>constantly be aware</b> of what I eat and what<br>I drink. I get to drink a maximum of 2 litres of fluid<br>every day, and have to be careful with my meat and<br>salt intake. <b>My whole life I have to monitor to be</b><br><b>safe</b>.</div>
<div class="t" style="left:100.00px;top:1274.61px;width:600px;text-align:left;font-size:30.5px;line-height:39.65px;font-weight:700;color:#000;letter-spacing:1.5px;">MAIN INSIGHTS</div>
<div class="t" style="left:100.00px;top:1332.26px;width:900px;text-align:left;font-size:18.1px;line-height:23.53px;font-weight:400;color:#1a1a1a;letter-spacing:0.3px;">Living with dialysis...</div>
<div class="t" style="left:106.00px;top:1364.16px;width:30px;text-align:left;font-size:18.1px;line-height:23.53px;font-weight:400;color:#1a1a1a;letter-spacing:0px;">1.</div>
<div class="t" style="left:126.00px;top:1364.16px;width:1200px;text-align:left;font-size:18.1px;line-height:23.53px;font-weight:400;color:#1a1a1a;letter-spacing:0.37px;">Makes you have to revolve your weekly <b>plans</b> around the treatments</div>
<div class="t" style="left:106.00px;top:1396.16px;width:30px;text-align:left;font-size:18.1px;line-height:23.53px;font-weight:400;color:#1a1a1a;letter-spacing:0px;">2.</div>
<div class="t" style="left:126.00px;top:1396.16px;width:1200px;text-align:left;font-size:18.1px;line-height:23.53px;font-weight:400;color:#1a1a1a;letter-spacing:0.37px;">Means undergoing regular treatments that put you in a constant state of lowered mood due to the <b>boredom</b></div>
<div class="t" style="left:106.00px;top:1427.56px;width:30px;text-align:left;font-size:18.1px;line-height:23.53px;font-weight:400;color:#1a1a1a;letter-spacing:0px;">3.</div>
<div class="t" style="left:126.00px;top:1427.56px;width:1200px;text-align:left;font-size:18.1px;line-height:23.53px;font-weight:400;color:#1a1a1a;letter-spacing:0.37px;">Affects your overall <b>life quality</b> even when you are not doing the treatments</div>
<div class="t" style="left:1527.00px;top:1378.44px;width:300px;text-align:right;font-size:10.2px;line-height:13.26px;font-weight:400;color:#333;letter-spacing:0px;">ID5666 Service Design</div>
<div class="t" style="left:1527.00px;top:1416.24px;width:300px;text-align:right;font-size:10.2px;line-height:13.26px;font-weight:400;color:#333;letter-spacing:0px;">Azhim Firdaus - 5298202</div>
<div class="t" style="left:1527.00px;top:1435.44px;width:300px;text-align:right;font-size:10.2px;line-height:13.26px;font-weight:400;color:#333;letter-spacing:0px;">Nadia Dalh - 4557174</div>
<div class="t" style="left:1527.00px;top:1453.74px;width:300px;text-align:right;font-size:10.2px;line-height:13.26px;font-weight:400;color:#333;letter-spacing:0px;">Peter van Oost - 4679261</div>
<div class="t" style="left:1527.00px;top:1472.64px;width:300px;text-align:right;font-size:10.2px;line-height:13.26px;font-weight:400;color:#333;letter-spacing:0px;">Jasper Kense - 4456165</div>
</div></body></html>
